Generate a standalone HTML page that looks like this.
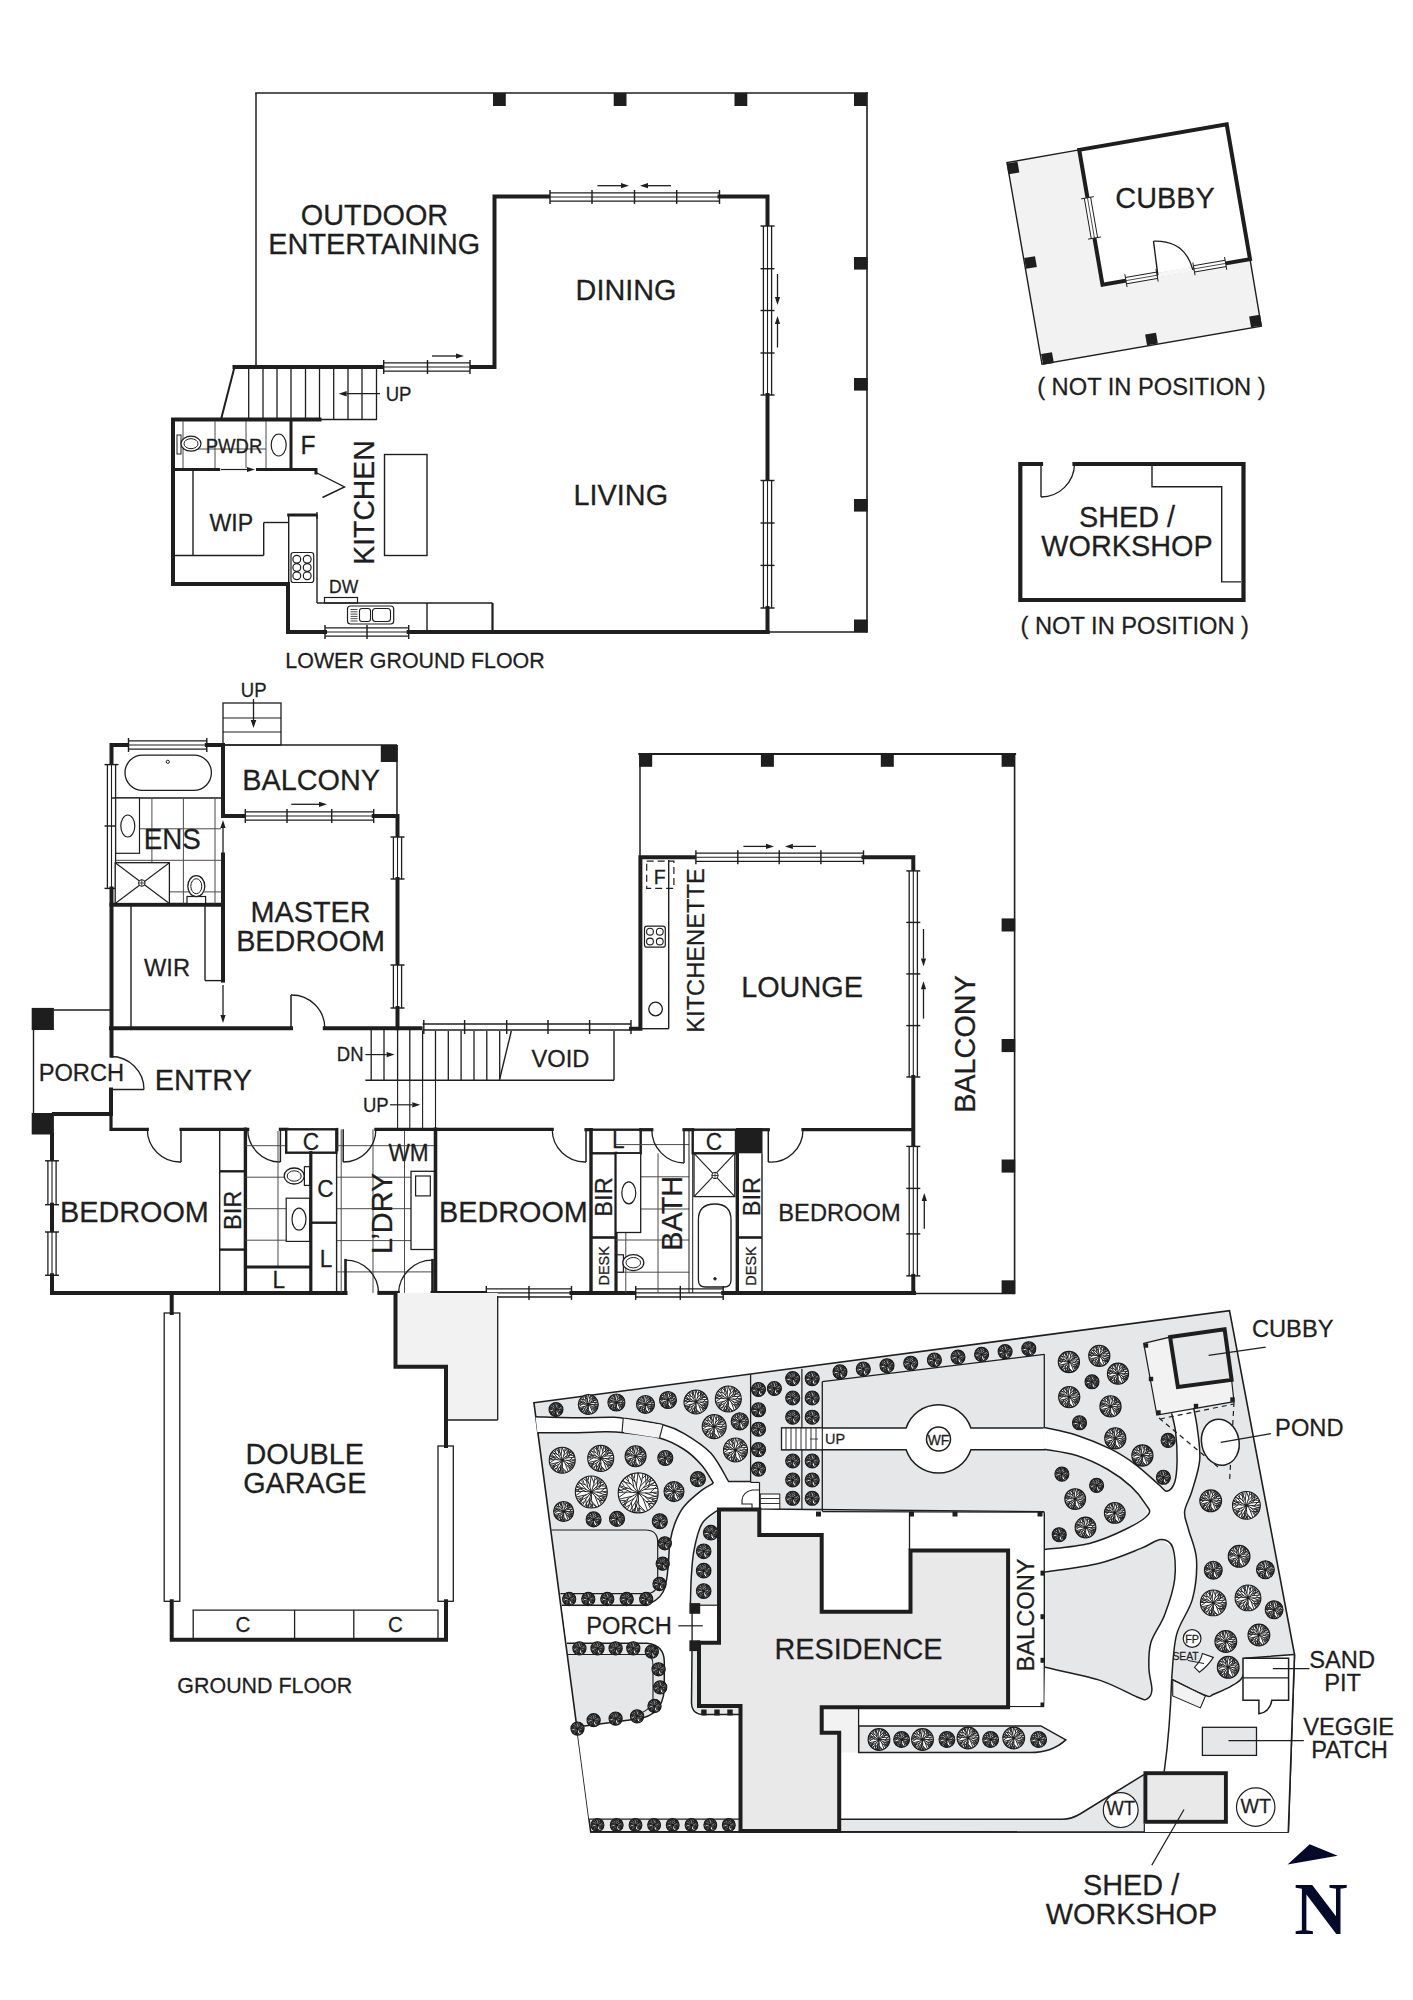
<!DOCTYPE html>
<html><head><meta charset="utf-8"><style>html,body{margin:0;padding:0;background:#fff;width:1413px;height:2000px;overflow:hidden}svg{display:block}</style></head>
<body><svg width="1413" height="2000" viewBox="0 0 1413 2000">
<rect width="1413" height="2000" fill="#fff"/>
<line x1="256" y1="93" x2="867" y2="93" stroke="#1e1e1e" stroke-width="1.6" stroke-linecap="square"/>
<line x1="256" y1="93" x2="256" y2="367" stroke="#1e1e1e" stroke-width="1.5" stroke-linecap="butt"/>
<line x1="867" y1="93" x2="867" y2="632" stroke="#1e1e1e" stroke-width="1.6" stroke-linecap="square"/>
<line x1="767" y1="632" x2="867" y2="632" stroke="#1e1e1e" stroke-width="1.5" stroke-linecap="butt"/>
<rect x="493" y="93" width="12.8" height="13" fill="#1e1e1e"/>
<rect x="613.7" y="93" width="12.8" height="13" fill="#1e1e1e"/>
<rect x="734.5" y="93" width="12.8" height="13" fill="#1e1e1e"/>
<rect x="854" y="93" width="12.8" height="13" fill="#1e1e1e"/>
<rect x="854" y="257" width="13.6" height="12.6" fill="#1e1e1e"/>
<rect x="854" y="378" width="13.6" height="12.6" fill="#1e1e1e"/>
<rect x="854" y="499" width="13.6" height="12.6" fill="#1e1e1e"/>
<rect x="854" y="619.5" width="13.6" height="12.6" fill="#1e1e1e"/>
<path d="M470 367 L494.5 367 L494.5 196.5 L550 196.5" fill="none" stroke="#1e1e1e" stroke-width="4" stroke-linecap="square" stroke-linejoin="miter"/>
<rect x="550" y="191.9" width="169.5" height="10.2" fill="#fff"/>
<line x1="550" y1="192.9" x2="719.5" y2="192.9" stroke="#1e1e1e" stroke-width="1.3" stroke-linecap="butt"/>
<line x1="550" y1="201.1" x2="719.5" y2="201.1" stroke="#1e1e1e" stroke-width="1.3" stroke-linecap="butt"/>
<line x1="550" y1="197" x2="719.5" y2="197" stroke="#1e1e1e" stroke-width="1.1" stroke-linecap="butt"/>
<line x1="550" y1="190" x2="550" y2="204" stroke="#1e1e1e" stroke-width="1.43" stroke-linecap="butt"/>
<line x1="592" y1="190" x2="592" y2="204" stroke="#1e1e1e" stroke-width="1.43" stroke-linecap="butt"/>
<line x1="634.5" y1="190" x2="634.5" y2="204" stroke="#1e1e1e" stroke-width="1.43" stroke-linecap="butt"/>
<line x1="676.7" y1="190" x2="676.7" y2="204" stroke="#1e1e1e" stroke-width="1.43" stroke-linecap="butt"/>
<line x1="719.5" y1="190" x2="719.5" y2="204" stroke="#1e1e1e" stroke-width="1.43" stroke-linecap="butt"/>
<path d="M719.5 196.5 L767.5 196.5 L767.5 226" fill="none" stroke="#1e1e1e" stroke-width="4" stroke-linecap="square" stroke-linejoin="miter"/>
<rect x="762.4" y="226" width="10.2" height="169" fill="#fff"/>
<line x1="763.4" y1="226" x2="763.4" y2="395" stroke="#1e1e1e" stroke-width="1.3" stroke-linecap="butt"/>
<line x1="771.6" y1="226" x2="771.6" y2="395" stroke="#1e1e1e" stroke-width="1.3" stroke-linecap="butt"/>
<line x1="767.5" y1="226" x2="767.5" y2="395" stroke="#1e1e1e" stroke-width="1.1" stroke-linecap="butt"/>
<line x1="760.5" y1="226" x2="774.5" y2="226" stroke="#1e1e1e" stroke-width="1.43" stroke-linecap="butt"/>
<line x1="760.5" y1="268.7" x2="774.5" y2="268.7" stroke="#1e1e1e" stroke-width="1.43" stroke-linecap="butt"/>
<line x1="760.5" y1="310.5" x2="774.5" y2="310.5" stroke="#1e1e1e" stroke-width="1.43" stroke-linecap="butt"/>
<line x1="760.5" y1="353" x2="774.5" y2="353" stroke="#1e1e1e" stroke-width="1.43" stroke-linecap="butt"/>
<line x1="760.5" y1="395" x2="774.5" y2="395" stroke="#1e1e1e" stroke-width="1.43" stroke-linecap="butt"/>
<path d="M767.5 395 L767.5 480.5" fill="none" stroke="#1e1e1e" stroke-width="4" stroke-linecap="square" stroke-linejoin="miter"/>
<rect x="762.4" y="480.5" width="10.2" height="127.5" fill="#fff"/>
<line x1="763.4" y1="480.5" x2="763.4" y2="608" stroke="#1e1e1e" stroke-width="1.3" stroke-linecap="butt"/>
<line x1="771.6" y1="480.5" x2="771.6" y2="608" stroke="#1e1e1e" stroke-width="1.3" stroke-linecap="butt"/>
<line x1="767.5" y1="480.5" x2="767.5" y2="608" stroke="#1e1e1e" stroke-width="1.1" stroke-linecap="butt"/>
<line x1="760.5" y1="480.5" x2="774.5" y2="480.5" stroke="#1e1e1e" stroke-width="1.43" stroke-linecap="butt"/>
<line x1="760.5" y1="523" x2="774.5" y2="523" stroke="#1e1e1e" stroke-width="1.43" stroke-linecap="butt"/>
<line x1="760.5" y1="565.4" x2="774.5" y2="565.4" stroke="#1e1e1e" stroke-width="1.43" stroke-linecap="butt"/>
<line x1="760.5" y1="608" x2="774.5" y2="608" stroke="#1e1e1e" stroke-width="1.43" stroke-linecap="butt"/>
<path d="M767.5 608 L767.5 632 L325 632" fill="none" stroke="#1e1e1e" stroke-width="4" stroke-linecap="square" stroke-linejoin="miter"/>
<rect x="325" y="626.9" width="83.7" height="10.2" fill="#fff"/>
<line x1="325" y1="627.9" x2="408.7" y2="627.9" stroke="#1e1e1e" stroke-width="1.3" stroke-linecap="butt"/>
<line x1="325" y1="636.1" x2="408.7" y2="636.1" stroke="#1e1e1e" stroke-width="1.3" stroke-linecap="butt"/>
<line x1="325" y1="632" x2="408.7" y2="632" stroke="#1e1e1e" stroke-width="1.1" stroke-linecap="butt"/>
<line x1="325" y1="625" x2="325" y2="639" stroke="#1e1e1e" stroke-width="1.43" stroke-linecap="butt"/>
<line x1="367" y1="625" x2="367" y2="639" stroke="#1e1e1e" stroke-width="1.43" stroke-linecap="butt"/>
<line x1="408.7" y1="625" x2="408.7" y2="639" stroke="#1e1e1e" stroke-width="1.43" stroke-linecap="butt"/>
<path d="M408.7 632 L767.5 632" fill="none" stroke="#1e1e1e" stroke-width="4" stroke-linecap="square" stroke-linejoin="miter"/>
<path d="M325 632 L288 632 L288 584 L173 584 L173 419.5 L319.5 419.5" fill="none" stroke="#1e1e1e" stroke-width="4" stroke-linecap="square" stroke-linejoin="miter"/>
<path d="M234.5 367 L383.7 367" fill="none" stroke="#1e1e1e" stroke-width="4" stroke-linecap="square" stroke-linejoin="miter"/>
<rect x="383.7" y="361.9" width="86.3" height="10.2" fill="#fff"/>
<line x1="383.7" y1="362.9" x2="470" y2="362.9" stroke="#1e1e1e" stroke-width="1.3" stroke-linecap="butt"/>
<line x1="383.7" y1="371.1" x2="470" y2="371.1" stroke="#1e1e1e" stroke-width="1.3" stroke-linecap="butt"/>
<line x1="383.7" y1="367" x2="470" y2="367" stroke="#1e1e1e" stroke-width="1.1" stroke-linecap="butt"/>
<line x1="383.7" y1="360" x2="383.7" y2="374" stroke="#1e1e1e" stroke-width="1.43" stroke-linecap="butt"/>
<line x1="427.5" y1="360" x2="427.5" y2="374" stroke="#1e1e1e" stroke-width="1.43" stroke-linecap="butt"/>
<line x1="470" y1="360" x2="470" y2="374" stroke="#1e1e1e" stroke-width="1.43" stroke-linecap="butt"/>
<line x1="432" y1="356" x2="456" y2="356" stroke="#1e1e1e" stroke-width="1.3" stroke-linecap="butt"/>
<path d="M464 356 L456 353.4 L456 358.6 Z" fill="#1e1e1e"/>
<line x1="597.5" y1="185.7" x2="621" y2="185.7" stroke="#1e1e1e" stroke-width="1.3" stroke-linecap="butt"/>
<path d="M629 185.7 L621 183.1 L621 188.3 Z" fill="#1e1e1e"/>
<line x1="671" y1="185.7" x2="648" y2="185.7" stroke="#1e1e1e" stroke-width="1.3" stroke-linecap="butt"/>
<path d="M640 185.7 L648 183.1 L648 188.3 Z" fill="#1e1e1e"/>
<line x1="777.5" y1="274" x2="777.5" y2="297" stroke="#1e1e1e" stroke-width="1.3" stroke-linecap="butt"/>
<path d="M777.5 305 L774.9 297 L780.1 297 Z" fill="#1e1e1e"/>
<line x1="777.5" y1="347.5" x2="777.5" y2="324" stroke="#1e1e1e" stroke-width="1.3" stroke-linecap="butt"/>
<path d="M777.5 316 L774.9 324 L780.1 324 Z" fill="#1e1e1e"/>
<line x1="234.5" y1="367" x2="221" y2="419.5" stroke="#1e1e1e" stroke-width="2" stroke-linecap="butt"/>
<line x1="248.7" y1="367" x2="248.7" y2="419.5" stroke="#1e1e1e" stroke-width="1.3" stroke-linecap="butt"/>
<line x1="263" y1="367" x2="263" y2="419.5" stroke="#1e1e1e" stroke-width="1.3" stroke-linecap="butt"/>
<line x1="277" y1="367" x2="277" y2="419.5" stroke="#1e1e1e" stroke-width="1.3" stroke-linecap="butt"/>
<line x1="291" y1="367" x2="291" y2="419.5" stroke="#1e1e1e" stroke-width="1.3" stroke-linecap="butt"/>
<line x1="305.5" y1="367" x2="305.5" y2="419.5" stroke="#1e1e1e" stroke-width="1.3" stroke-linecap="butt"/>
<line x1="319.5" y1="367" x2="319.5" y2="419.5" stroke="#1e1e1e" stroke-width="1.3" stroke-linecap="butt"/>
<line x1="333.7" y1="367" x2="333.7" y2="419.5" stroke="#1e1e1e" stroke-width="1.3" stroke-linecap="butt"/>
<line x1="348" y1="367" x2="348" y2="419.5" stroke="#1e1e1e" stroke-width="1.3" stroke-linecap="butt"/>
<line x1="362" y1="367" x2="362" y2="419.5" stroke="#1e1e1e" stroke-width="1.3" stroke-linecap="butt"/>
<line x1="376.5" y1="367" x2="376.5" y2="419.5" stroke="#1e1e1e" stroke-width="1.3" stroke-linecap="butt"/>
<line x1="319.5" y1="419.5" x2="377" y2="419.5" stroke="#1e1e1e" stroke-width="1.3" stroke-linecap="butt"/>
<line x1="380" y1="393.7" x2="346.7" y2="393.7" stroke="#1e1e1e" stroke-width="1.3" stroke-linecap="butt"/>
<path d="M338.7 393.7 L346.7 390.9 L346.7 396.5 Z" fill="#1e1e1e"/>
<text x="0" y="0" font-family="Liberation Sans" font-size="18" font-weight="normal" text-anchor="middle" fill="#1e1e1e" stroke="#1e1e1e" stroke-width="0.25" transform="translate(398.5 401) scale(1.03 1.08)">UP</text>
<path d="M291 419.5 L291 469.5" fill="none" stroke="#1e1e1e" stroke-width="3" stroke-linecap="square" stroke-linejoin="miter"/>
<path d="M175 469.5 L218.7 469.5" fill="none" stroke="#1e1e1e" stroke-width="3" stroke-linecap="square" stroke-linejoin="miter"/>
<path d="M257.5 469.5 L316 469.5 L316 473" fill="none" stroke="#1e1e1e" stroke-width="3" stroke-linecap="square" stroke-linejoin="miter"/>
<line x1="221" y1="469.5" x2="247" y2="469.5" stroke="#1e1e1e" stroke-width="1.2" stroke-linecap="butt"/>
<path d="M255 469.5 L247 466.9 L247 472.1 Z" fill="#1e1e1e"/>
<line x1="183" y1="421" x2="183" y2="468" stroke="#4a4a4a" stroke-width="1" stroke-linecap="butt"/>
<line x1="215" y1="421" x2="215" y2="468" stroke="#4a4a4a" stroke-width="1" stroke-linecap="butt"/>
<line x1="246" y1="421" x2="246" y2="468" stroke="#4a4a4a" stroke-width="1" stroke-linecap="butt"/>
<line x1="266" y1="421" x2="266" y2="468" stroke="#4a4a4a" stroke-width="1" stroke-linecap="butt"/>
<line x1="183" y1="449" x2="266" y2="449" stroke="#4a4a4a" stroke-width="1" stroke-linecap="butt"/>
<rect x="177" y="435" width="4" height="19" rx="0" fill="#fff" stroke="#1e1e1e" stroke-width="1"/>
<ellipse cx="191" cy="443.7" rx="10" ry="7.5" fill="#fff" stroke="#1e1e1e" stroke-width="1.2"/>
<ellipse cx="191" cy="443.7" rx="7" ry="5" fill="none" stroke="#1e1e1e" stroke-width="1"/>
<ellipse cx="278.7" cy="445" rx="7.5" ry="11" fill="#fff" stroke="#1e1e1e" stroke-width="1.2"/>
<text x="0" y="0" font-family="Liberation Sans" font-size="18" font-weight="normal" text-anchor="middle" fill="#1e1e1e" stroke="#1e1e1e" stroke-width="0.25" transform="translate(234 452.5) scale(1.03 1.08)">PWDR</text>
<text x="0" y="0" font-family="Liberation Sans" font-size="24" font-weight="normal" text-anchor="middle" fill="#1e1e1e" stroke="#1e1e1e" stroke-width="0.25" transform="translate(308 454) scale(1.03 1.08)">F</text>
<path d="M316 472.5 L344.5 487 L322.5 497.5" fill="none" stroke="#1e1e1e" stroke-width="1.4" stroke-linecap="butt" stroke-linejoin="miter"/>
<line x1="193" y1="469.5" x2="193" y2="555.5" stroke="#1e1e1e" stroke-width="1.4" stroke-linecap="butt"/>
<line x1="175" y1="555.5" x2="263.7" y2="555.5" stroke="#1e1e1e" stroke-width="1.4" stroke-linecap="butt"/>
<line x1="263.7" y1="522.5" x2="263.7" y2="555.5" stroke="#1e1e1e" stroke-width="1.4" stroke-linecap="butt"/>
<line x1="263.7" y1="522.5" x2="288.7" y2="522.5" stroke="#1e1e1e" stroke-width="1.4" stroke-linecap="butt"/>
<line x1="288.7" y1="515" x2="288.7" y2="584" stroke="#1e1e1e" stroke-width="1.4" stroke-linecap="butt"/>
<path d="M288.7 515 L316 515" fill="none" stroke="#1e1e1e" stroke-width="3" stroke-linecap="square" stroke-linejoin="miter"/>
<line x1="317" y1="512" x2="317" y2="519" stroke="#1e1e1e" stroke-width="1.3" stroke-linecap="butt"/>
<text x="0" y="0" font-family="Liberation Sans" font-size="22.5" font-weight="normal" text-anchor="middle" fill="#1e1e1e" stroke="#1e1e1e" stroke-width="0.25" transform="translate(231.3 531.3) scale(1.03 1.08)">WIP</text>
<line x1="317" y1="515" x2="317" y2="603" stroke="#1e1e1e" stroke-width="1.4" stroke-linecap="butt"/>
<line x1="317" y1="603" x2="492.5" y2="603" stroke="#1e1e1e" stroke-width="1.4" stroke-linecap="butt"/>
<line x1="492.5" y1="603" x2="492.5" y2="632" stroke="#1e1e1e" stroke-width="2.2" stroke-linecap="butt"/>
<line x1="427" y1="603" x2="427" y2="632" stroke="#1e1e1e" stroke-width="1.4" stroke-linecap="butt"/>
<rect x="291" y="552.5" width="22.7" height="30" rx="2.5" fill="none" stroke="#1e1e1e" stroke-width="1.2"/>
<circle cx="296.8" cy="559.3" r="3.9" fill="none" stroke="#1e1e1e" stroke-width="1.2"/>
<circle cx="296.8" cy="567.5" r="3.9" fill="none" stroke="#1e1e1e" stroke-width="1.2"/>
<circle cx="296.8" cy="575.7" r="3.9" fill="none" stroke="#1e1e1e" stroke-width="1.2"/>
<circle cx="307.2" cy="559.3" r="3.9" fill="none" stroke="#1e1e1e" stroke-width="1.2"/>
<circle cx="307.2" cy="567.5" r="3.9" fill="none" stroke="#1e1e1e" stroke-width="1.2"/>
<circle cx="307.2" cy="575.7" r="3.9" fill="none" stroke="#1e1e1e" stroke-width="1.2"/>
<text x="0" y="0" font-family="Liberation Sans" font-size="17" font-weight="normal" text-anchor="middle" fill="#1e1e1e" stroke="#1e1e1e" stroke-width="0.25" transform="translate(343.7 592.5) scale(1.03 1.08)">DW</text>
<rect x="324.5" y="597.5" width="33" height="5.5" rx="0" fill="none" stroke="#1e1e1e" stroke-width="1.2"/>
<rect x="347.5" y="606" width="46.2" height="18" rx="3" fill="none" stroke="#1e1e1e" stroke-width="1.2"/>
<line x1="350.5" y1="609.5" x2="357.5" y2="609.5" stroke="#1e1e1e" stroke-width="0.8" stroke-linecap="butt"/>
<line x1="350.5" y1="611.8" x2="357.5" y2="611.8" stroke="#1e1e1e" stroke-width="0.8" stroke-linecap="butt"/>
<line x1="350.5" y1="614.1" x2="357.5" y2="614.1" stroke="#1e1e1e" stroke-width="0.8" stroke-linecap="butt"/>
<line x1="350.5" y1="616.4" x2="357.5" y2="616.4" stroke="#1e1e1e" stroke-width="0.8" stroke-linecap="butt"/>
<line x1="350.5" y1="618.7" x2="357.5" y2="618.7" stroke="#1e1e1e" stroke-width="0.8" stroke-linecap="butt"/>
<line x1="350.5" y1="621" x2="357.5" y2="621" stroke="#1e1e1e" stroke-width="0.8" stroke-linecap="butt"/>
<rect x="359.5" y="608.5" width="11" height="13" rx="2.5" fill="none" stroke="#1e1e1e" stroke-width="1.1"/>
<rect x="372.5" y="608.5" width="18" height="13" rx="3" fill="none" stroke="#1e1e1e" stroke-width="1.1"/>
<rect x="384.5" y="454.5" width="42.5" height="101" rx="0" fill="none" stroke="#1e1e1e" stroke-width="1.4"/>
<text x="0" y="0" font-family="Liberation Sans" font-size="27.5" font-weight="normal" text-anchor="middle" fill="#1e1e1e" stroke="#1e1e1e" stroke-width="0.25" transform="translate(373.5 502.5) rotate(-90) scale(1.03 1.08)">KITCHEN</text>
<text x="0" y="0" font-family="Liberation Sans" font-size="28" font-weight="normal" text-anchor="middle" fill="#1e1e1e" stroke="#1e1e1e" stroke-width="0.25" transform="translate(374.5 225) scale(1.03 1.08)">OUTDOOR</text>
<text x="0" y="0" font-family="Liberation Sans" font-size="28" font-weight="normal" text-anchor="middle" fill="#1e1e1e" stroke="#1e1e1e" stroke-width="0.25" transform="translate(374.3 253.5) scale(1.03 1.08)">ENTERTAINING</text>
<text x="0" y="0" font-family="Liberation Sans" font-size="28" font-weight="normal" text-anchor="middle" fill="#1e1e1e" stroke="#1e1e1e" stroke-width="0.25" transform="translate(626 300) scale(1.03 1.08)">DINING</text>
<text x="0" y="0" font-family="Liberation Sans" font-size="28" font-weight="normal" text-anchor="middle" fill="#1e1e1e" stroke="#1e1e1e" stroke-width="0.25" transform="translate(620.8 504.6) scale(1.03 1.08)">LIVING</text>
<text x="0" y="0" font-family="Liberation Sans" font-size="20.8" font-weight="normal" text-anchor="middle" fill="#1e1e1e" stroke="#1e1e1e" stroke-width="0.25" transform="translate(415 668.3) scale(1.03 1.08)">LOWER GROUND FLOOR</text>
<path d="M1007 162.6 L1079.2 149.9 L1102.5 284.7 L1250 259.2 L1261.3 326.1 L1042 364.3 Z" fill="#f2f2f2" stroke="none" stroke-width="0.01" stroke-linecap="square" stroke-linejoin="miter"/>
<path d="M1079.2 149.9 L1007 162.6 L1042 364.3 L1261.3 326.1 L1250 259.2" fill="none" stroke="#1e1e1e" stroke-width="1.4" stroke-linecap="butt" stroke-linejoin="miter"/>
<path d="M1079.2 149.9 L1226.7 124.4 L1250 259.2 L1102.5 284.7 Z" fill="#fff" stroke="#1e1e1e" stroke-width="4" stroke-linecap="square" stroke-linejoin="miter"/>
<rect x="-5.5" y="-5.5" width="11" height="11" fill="#1e1e1e" transform="translate(1013 168) rotate(-9.8)"/>
<rect x="-5.5" y="-5.5" width="11" height="11" fill="#1e1e1e" transform="translate(1030.5 262.5) rotate(-9.8)"/>
<rect x="-5.5" y="-5.5" width="11" height="11" fill="#1e1e1e" transform="translate(1047.5 358.5) rotate(-9.8)"/>
<rect x="-5.5" y="-5.5" width="11" height="11" fill="#1e1e1e" transform="translate(1151.5 339) rotate(-9.8)"/>
<rect x="-5.5" y="-5.5" width="11" height="11" fill="#1e1e1e" transform="translate(1255.5 321) rotate(-9.8)"/>
<path d="M1087.47 197.75 L1094.44 238.06" stroke="#fff" stroke-width="6"/>
<line x1="1090.62" y1="197.21" x2="1097.59" y2="237.51" stroke="#1e1e1e" stroke-width="1" stroke-linecap="butt"/>
<line x1="1084.32" y1="198.3" x2="1091.28" y2="238.6" stroke="#1e1e1e" stroke-width="1" stroke-linecap="butt"/>
<line x1="1087.47" y1="197.75" x2="1094.44" y2="238.06" stroke="#1e1e1e" stroke-width="0.8" stroke-linecap="butt"/>
<line x1="1093.88" y1="196.65" x2="1081.07" y2="198.86" stroke="#1e1e1e" stroke-width="1" stroke-linecap="butt"/>
<line x1="1100.84" y1="236.95" x2="1088.03" y2="239.17" stroke="#1e1e1e" stroke-width="1" stroke-linecap="butt"/>
<path d="M1125.95 280.65 L1157.08 275.26" stroke="#fff" stroke-width="6"/>
<line x1="1125.41" y1="277.49" x2="1156.53" y2="272.11" stroke="#1e1e1e" stroke-width="1" stroke-linecap="butt"/>
<line x1="1126.5" y1="283.8" x2="1157.62" y2="278.42" stroke="#1e1e1e" stroke-width="1" stroke-linecap="butt"/>
<line x1="1125.95" y1="280.65" x2="1157.08" y2="275.26" stroke="#1e1e1e" stroke-width="0.8" stroke-linecap="butt"/>
<line x1="1124.85" y1="274.24" x2="1127.06" y2="287.05" stroke="#1e1e1e" stroke-width="1" stroke-linecap="butt"/>
<line x1="1155.97" y1="268.86" x2="1158.18" y2="281.67" stroke="#1e1e1e" stroke-width="1" stroke-linecap="butt"/>
<path d="M1193.95 268.89 L1225.66 263.41" stroke="#fff" stroke-width="6"/>
<line x1="1193.4" y1="265.74" x2="1225.12" y2="260.25" stroke="#1e1e1e" stroke-width="1" stroke-linecap="butt"/>
<line x1="1194.5" y1="272.04" x2="1226.21" y2="266.56" stroke="#1e1e1e" stroke-width="1" stroke-linecap="butt"/>
<line x1="1193.95" y1="268.89" x2="1225.66" y2="263.41" stroke="#1e1e1e" stroke-width="0.8" stroke-linecap="butt"/>
<line x1="1192.84" y1="262.49" x2="1195.06" y2="275.29" stroke="#1e1e1e" stroke-width="1" stroke-linecap="butt"/>
<line x1="1224.56" y1="257" x2="1226.77" y2="269.81" stroke="#1e1e1e" stroke-width="1" stroke-linecap="butt"/>
<path d="M1157.81 275.14 L1193.21 269.02" stroke="#f6f6f6" stroke-width="5"/>
<line x1="1157.81" y1="275.14" x2="1153.5" y2="241.2" stroke="#1e1e1e" stroke-width="1.4" stroke-linecap="butt"/>
<path d="M1153.5 241.2 Q1185 240 1192.8 269.9" fill="none" stroke="#1e1e1e" stroke-width="1.3"/>
<text x="0" y="0" font-family="Liberation Sans" font-size="28" font-weight="normal" text-anchor="middle" fill="#1e1e1e" stroke="#1e1e1e" stroke-width="0.25" transform="translate(1165 208.3) scale(1.03 1.08)">CUBBY</text>
<text x="0" y="0" font-family="Liberation Sans" font-size="23" font-weight="normal" text-anchor="middle" fill="#1e1e1e" stroke="#1e1e1e" stroke-width="0.25" transform="translate(1151.4 395) scale(1.03 1.08)">( NOT IN POSITION )</text>
<path d="M1041 464 L1020.3 464 L1020.3 600 L1243.5 600 L1243.5 464 L1074.5 464" fill="none" stroke="#1e1e1e" stroke-width="4.2" stroke-linecap="square" stroke-linejoin="miter"/>
<line x1="1041" y1="464" x2="1041" y2="497" stroke="#1e1e1e" stroke-width="1.4" stroke-linecap="butt"/>
<path d="M1041 497 A33.5 33.5 0 0 0 1074.5 464" fill="none" stroke="#1e1e1e" stroke-width="1.3"/>
<path d="M1152 466 L1152 486.7 L1221.7 486.7 L1221.7 581.9 L1241 581.9" fill="none" stroke="#1e1e1e" stroke-width="1.4" stroke-linecap="butt" stroke-linejoin="miter"/>
<text x="0" y="0" font-family="Liberation Sans" font-size="28" font-weight="normal" text-anchor="middle" fill="#1e1e1e" stroke="#1e1e1e" stroke-width="0.25" transform="translate(1127 527) scale(1.03 1.08)">SHED /</text>
<text x="0" y="0" font-family="Liberation Sans" font-size="28" font-weight="normal" text-anchor="middle" fill="#1e1e1e" stroke="#1e1e1e" stroke-width="0.25" transform="translate(1127 556) scale(1.03 1.08)">WORKSHOP</text>
<text x="0" y="0" font-family="Liberation Sans" font-size="23" font-weight="normal" text-anchor="middle" fill="#1e1e1e" stroke="#1e1e1e" stroke-width="0.25" transform="translate(1134.7 634.4) scale(1.03 1.08)">( NOT IN POSITION )</text>
<rect x="223" y="703" width="58" height="42" rx="0" fill="none" stroke="#1e1e1e" stroke-width="1.3"/>
<line x1="223" y1="718" x2="281" y2="718" stroke="#1e1e1e" stroke-width="1.2" stroke-linecap="butt"/>
<line x1="223" y1="732" x2="281" y2="732" stroke="#1e1e1e" stroke-width="1.2" stroke-linecap="butt"/>
<line x1="253.5" y1="699" x2="253.5" y2="720" stroke="#1e1e1e" stroke-width="1.3" stroke-linecap="butt"/>
<path d="M253.5 728 L250.7 720 L256.3 720 Z" fill="#1e1e1e"/>
<text x="0" y="0" font-family="Liberation Sans" font-size="18" font-weight="normal" text-anchor="middle" fill="#1e1e1e" stroke="#1e1e1e" stroke-width="0.25" transform="translate(253.7 697) scale(1.03 1.08)">UP</text>
<path d="M111.5 764.6 L111.5 745 L128.5 745" fill="none" stroke="#1e1e1e" stroke-width="4" stroke-linecap="square" stroke-linejoin="miter"/>
<rect x="128.5" y="739.9" width="78.3" height="10.2" fill="#fff"/>
<line x1="128.5" y1="740.9" x2="206.8" y2="740.9" stroke="#1e1e1e" stroke-width="1.3" stroke-linecap="butt"/>
<line x1="128.5" y1="749.1" x2="206.8" y2="749.1" stroke="#1e1e1e" stroke-width="1.3" stroke-linecap="butt"/>
<line x1="128.5" y1="745" x2="206.8" y2="745" stroke="#1e1e1e" stroke-width="1.1" stroke-linecap="butt"/>
<line x1="128.5" y1="738" x2="128.5" y2="752" stroke="#1e1e1e" stroke-width="1.43" stroke-linecap="butt"/>
<line x1="206.8" y1="738" x2="206.8" y2="752" stroke="#1e1e1e" stroke-width="1.43" stroke-linecap="butt"/>
<path d="M206.8 745 L223 745 L223 816 L245.3 816" fill="none" stroke="#1e1e1e" stroke-width="4" stroke-linecap="square" stroke-linejoin="miter"/>
<rect x="245.3" y="810.9" width="128.4" height="10.2" fill="#fff"/>
<line x1="245.3" y1="811.9" x2="373.7" y2="811.9" stroke="#1e1e1e" stroke-width="1.3" stroke-linecap="butt"/>
<line x1="245.3" y1="820.1" x2="373.7" y2="820.1" stroke="#1e1e1e" stroke-width="1.3" stroke-linecap="butt"/>
<line x1="245.3" y1="816" x2="373.7" y2="816" stroke="#1e1e1e" stroke-width="1.1" stroke-linecap="butt"/>
<line x1="245.3" y1="809" x2="245.3" y2="823" stroke="#1e1e1e" stroke-width="1.43" stroke-linecap="butt"/>
<line x1="287" y1="809" x2="287" y2="823" stroke="#1e1e1e" stroke-width="1.43" stroke-linecap="butt"/>
<line x1="331.7" y1="809" x2="331.7" y2="823" stroke="#1e1e1e" stroke-width="1.43" stroke-linecap="butt"/>
<line x1="373.7" y1="809" x2="373.7" y2="823" stroke="#1e1e1e" stroke-width="1.43" stroke-linecap="butt"/>
<path d="M373.7 816 L397.5 816 L397.5 837" fill="none" stroke="#1e1e1e" stroke-width="4" stroke-linecap="square" stroke-linejoin="miter"/>
<rect x="392.4" y="837" width="10.2" height="42" fill="#fff"/>
<line x1="393.4" y1="837" x2="393.4" y2="879" stroke="#1e1e1e" stroke-width="1.3" stroke-linecap="butt"/>
<line x1="401.6" y1="837" x2="401.6" y2="879" stroke="#1e1e1e" stroke-width="1.3" stroke-linecap="butt"/>
<line x1="397.5" y1="837" x2="397.5" y2="879" stroke="#1e1e1e" stroke-width="1.1" stroke-linecap="butt"/>
<line x1="390.5" y1="837" x2="404.5" y2="837" stroke="#1e1e1e" stroke-width="1.43" stroke-linecap="butt"/>
<line x1="390.5" y1="879" x2="404.5" y2="879" stroke="#1e1e1e" stroke-width="1.43" stroke-linecap="butt"/>
<path d="M397.5 879 L397.5 965" fill="none" stroke="#1e1e1e" stroke-width="4" stroke-linecap="square" stroke-linejoin="miter"/>
<rect x="392.4" y="965" width="10.2" height="43" fill="#fff"/>
<line x1="393.4" y1="965" x2="393.4" y2="1008" stroke="#1e1e1e" stroke-width="1.3" stroke-linecap="butt"/>
<line x1="401.6" y1="965" x2="401.6" y2="1008" stroke="#1e1e1e" stroke-width="1.3" stroke-linecap="butt"/>
<line x1="397.5" y1="965" x2="397.5" y2="1008" stroke="#1e1e1e" stroke-width="1.1" stroke-linecap="butt"/>
<line x1="390.5" y1="965" x2="404.5" y2="965" stroke="#1e1e1e" stroke-width="1.43" stroke-linecap="butt"/>
<line x1="390.5" y1="1008" x2="404.5" y2="1008" stroke="#1e1e1e" stroke-width="1.43" stroke-linecap="butt"/>
<path d="M397.5 1008 L397.5 1028.2" fill="none" stroke="#1e1e1e" stroke-width="4" stroke-linecap="square" stroke-linejoin="miter"/>
<rect x="106.4" y="764.6" width="10.2" height="123.8" fill="#fff"/>
<line x1="107.4" y1="764.6" x2="107.4" y2="888.4" stroke="#1e1e1e" stroke-width="1.3" stroke-linecap="butt"/>
<line x1="115.6" y1="764.6" x2="115.6" y2="888.4" stroke="#1e1e1e" stroke-width="1.3" stroke-linecap="butt"/>
<line x1="111.5" y1="764.6" x2="111.5" y2="888.4" stroke="#1e1e1e" stroke-width="1.1" stroke-linecap="butt"/>
<line x1="104.5" y1="764.6" x2="118.5" y2="764.6" stroke="#1e1e1e" stroke-width="1.43" stroke-linecap="butt"/>
<line x1="104.5" y1="826" x2="118.5" y2="826" stroke="#1e1e1e" stroke-width="1.43" stroke-linecap="butt"/>
<line x1="104.5" y1="888.4" x2="118.5" y2="888.4" stroke="#1e1e1e" stroke-width="1.43" stroke-linecap="butt"/>
<path d="M111.5 888.4 L111.5 1055.7" fill="none" stroke="#1e1e1e" stroke-width="4" stroke-linecap="square" stroke-linejoin="miter"/>
<path d="M111.5 904.7 L223 904.7" fill="none" stroke="#1e1e1e" stroke-width="4" stroke-linecap="square" stroke-linejoin="miter"/>
<line x1="223" y1="853" x2="223" y2="828" stroke="#1e1e1e" stroke-width="1.3" stroke-linecap="butt"/>
<path d="M223 820 L220.4 828 L225.6 828 Z" fill="#1e1e1e"/>
<path d="M223 854.5 L223 980.6" fill="none" stroke="#1e1e1e" stroke-width="4" stroke-linecap="square" stroke-linejoin="miter"/>
<line x1="223" y1="985" x2="223" y2="1015" stroke="#1e1e1e" stroke-width="1.3" stroke-linecap="butt"/>
<path d="M223 1023 L220.4 1015 L225.6 1015 Z" fill="#1e1e1e"/>
<line x1="205" y1="904.7" x2="205" y2="980.6" stroke="#1e1e1e" stroke-width="1.4" stroke-linecap="butt"/>
<line x1="205" y1="980.6" x2="223" y2="980.6" stroke="#1e1e1e" stroke-width="1.4" stroke-linecap="butt"/>
<line x1="131" y1="904.7" x2="131" y2="1028.2" stroke="#1e1e1e" stroke-width="1.4" stroke-linecap="butt"/>
<path d="M111 1028.2 L291 1028.2" fill="none" stroke="#1e1e1e" stroke-width="4" stroke-linecap="square" stroke-linejoin="miter"/>
<line x1="291" y1="1028.2" x2="291" y2="995" stroke="#1e1e1e" stroke-width="1.5" stroke-linecap="butt"/>
<path d="M291 995 A33.2 33.2 0 0 1 324.8 1028.2" fill="none" stroke="#1e1e1e" stroke-width="1.3"/>
<path d="M324.8 1028.2 L422.6 1028.2" fill="none" stroke="#1e1e1e" stroke-width="4" stroke-linecap="square" stroke-linejoin="miter"/>
<line x1="224.3" y1="745" x2="397" y2="745" stroke="#1e1e1e" stroke-width="1.5" stroke-linecap="butt"/>
<line x1="397" y1="745" x2="397" y2="816" stroke="#1e1e1e" stroke-width="1.5" stroke-linecap="butt"/>
<rect x="380.8" y="745" width="16.8" height="17" fill="#1e1e1e"/>
<rect x="125" y="755.2" width="86.4" height="35.1" rx="17.5" fill="none" stroke="#1e1e1e" stroke-width="1.3"/>
<circle cx="167.8" cy="761.8" r="1.6" fill="none" stroke="#1e1e1e" stroke-width="1"/>
<line x1="111.5" y1="798" x2="223" y2="798" stroke="#1e1e1e" stroke-width="1.5" stroke-linecap="butt"/>
<line x1="151.9" y1="798" x2="151.9" y2="903.5" stroke="#4a4a4a" stroke-width="1" stroke-linecap="butt"/>
<line x1="183.4" y1="798" x2="183.4" y2="903.5" stroke="#4a4a4a" stroke-width="1" stroke-linecap="butt"/>
<line x1="215" y1="798" x2="215" y2="903.5" stroke="#4a4a4a" stroke-width="1" stroke-linecap="butt"/>
<line x1="115.7" y1="828.8" x2="221" y2="828.8" stroke="#4a4a4a" stroke-width="1" stroke-linecap="butt"/>
<line x1="115.7" y1="860.3" x2="221" y2="860.3" stroke="#4a4a4a" stroke-width="1" stroke-linecap="butt"/>
<line x1="115.7" y1="891.9" x2="221" y2="891.9" stroke="#4a4a4a" stroke-width="1" stroke-linecap="butt"/>
<rect x="115.7" y="798" width="23.8" height="55.3" rx="0" fill="#fff" stroke="#1e1e1e" stroke-width="1.2"/>
<ellipse cx="127.8" cy="826" rx="7" ry="11" fill="none" stroke="#1e1e1e" stroke-width="1.2"/>
<rect x="115.2" y="862.7" width="54.2" height="40.8" rx="0" fill="#fff" stroke="#1e1e1e" stroke-width="1.3"/>
<line x1="115.2" y1="862.7" x2="169.4" y2="903.5" stroke="#1e1e1e" stroke-width="1.1" stroke-linecap="butt"/>
<line x1="169.4" y1="862.7" x2="115.2" y2="903.5" stroke="#1e1e1e" stroke-width="1.1" stroke-linecap="butt"/>
<circle cx="141.8" cy="883" r="3.3" fill="#fff" stroke="#1e1e1e" stroke-width="1"/>
<line x1="138.5" y1="883" x2="145.1" y2="883" stroke="#1e1e1e" stroke-width="0.8" stroke-linecap="butt"/>
<line x1="141.8" y1="879.7" x2="141.8" y2="886.3" stroke="#1e1e1e" stroke-width="0.8" stroke-linecap="butt"/>
<rect x="187" y="896.5" width="18.6" height="7" rx="0" fill="#fff" stroke="#1e1e1e" stroke-width="1.2"/>
<ellipse cx="196.3" cy="886.2" rx="8.5" ry="10.5" fill="#fff" stroke="#1e1e1e" stroke-width="1.3"/>
<ellipse cx="196.3" cy="886.2" rx="5.5" ry="7.5" fill="none" stroke="#1e1e1e" stroke-width="1"/>
<text x="0" y="0" font-family="Liberation Sans" font-size="28" font-weight="normal" text-anchor="middle" fill="#1e1e1e" stroke="#1e1e1e" stroke-width="0.25" transform="translate(311.2 790) scale(1.03 1.08)">BALCONY</text>
<line x1="291.3" y1="804.3" x2="319" y2="804.3" stroke="#1e1e1e" stroke-width="1.3" stroke-linecap="butt"/>
<path d="M327 804.3 L319 801.7 L319 806.9 Z" fill="#1e1e1e"/>
<text x="0" y="0" font-family="Liberation Sans" font-size="27" font-weight="normal" text-anchor="middle" fill="#1e1e1e" stroke="#1e1e1e" stroke-width="0.25" transform="translate(172.3 848.7) scale(1.03 1.08)">ENS</text>
<text x="0" y="0" font-family="Liberation Sans" font-size="23" font-weight="normal" text-anchor="middle" fill="#1e1e1e" stroke="#1e1e1e" stroke-width="0.25" transform="translate(167 976) scale(1.03 1.08)">WIR</text>
<text x="0" y="0" font-family="Liberation Sans" font-size="28" font-weight="normal" text-anchor="middle" fill="#1e1e1e" stroke="#1e1e1e" stroke-width="0.25" transform="translate(310.6 922.2) scale(1.03 1.08)">MASTER</text>
<text x="0" y="0" font-family="Liberation Sans" font-size="28" font-weight="normal" text-anchor="middle" fill="#1e1e1e" stroke="#1e1e1e" stroke-width="0.25" transform="translate(310.6 951.4) scale(1.03 1.08)">BEDROOM</text>
<rect x="31.7" y="1007.9" width="22.2" height="22.1" fill="#1e1e1e"/>
<rect x="31.7" y="1113" width="22.2" height="21.5" fill="#1e1e1e"/>
<line x1="53.9" y1="1010" x2="111" y2="1010" stroke="#1e1e1e" stroke-width="1.4" stroke-linecap="butt"/>
<line x1="33.5" y1="1030" x2="33.5" y2="1113" stroke="#1e1e1e" stroke-width="1.4" stroke-linecap="butt"/>
<path d="M53.9 1114 L111 1114 L111 1089.6" fill="none" stroke="#1e1e1e" stroke-width="4" stroke-linecap="square" stroke-linejoin="miter"/>
<line x1="111" y1="1089.6" x2="144" y2="1089.6" stroke="#1e1e1e" stroke-width="1.5" stroke-linecap="butt"/>
<path d="M144 1089.6 A33 33 0 0 0 111 1056.5" fill="none" stroke="#1e1e1e" stroke-width="1.3"/>
<text x="0" y="0" font-family="Liberation Sans" font-size="23" font-weight="normal" text-anchor="middle" fill="#1e1e1e" stroke="#1e1e1e" stroke-width="0.25" transform="translate(81.4 1081.4) scale(1.03 1.08)">PORCH</text>
<text x="0" y="0" font-family="Liberation Sans" font-size="28" font-weight="normal" text-anchor="middle" fill="#1e1e1e" stroke="#1e1e1e" stroke-width="0.25" transform="translate(203.3 1089.6) scale(1.03 1.08)">ENTRY</text>
<path d="M111 1114 L111 1129.3 L147.3 1129.3" fill="none" stroke="#1e1e1e" stroke-width="3.2" stroke-linecap="square" stroke-linejoin="miter"/>
<line x1="181" y1="1129.3" x2="181" y2="1162" stroke="#1e1e1e" stroke-width="1.5" stroke-linecap="butt"/>
<path d="M181 1162 A32.7 32.7 0 0 1 147.3 1129.3" fill="none" stroke="#1e1e1e" stroke-width="1.3"/>
<path d="M181 1129.3 L247.7 1129.3" fill="none" stroke="#1e1e1e" stroke-width="3.2" stroke-linecap="square" stroke-linejoin="miter"/>
<line x1="280.4" y1="1129.3" x2="280.4" y2="1162" stroke="#1e1e1e" stroke-width="1.5" stroke-linecap="butt"/>
<path d="M280.4 1162 A32.7 32.7 0 0 1 247.7 1129.3" fill="none" stroke="#1e1e1e" stroke-width="1.3"/>
<path d="M280.4 1129.3 L287 1129.3" fill="none" stroke="#1e1e1e" stroke-width="3.2" stroke-linecap="square" stroke-linejoin="miter"/>
<path d="M52 1134 L52 1160.8" fill="none" stroke="#1e1e1e" stroke-width="4" stroke-linecap="square" stroke-linejoin="miter"/>
<rect x="46.9" y="1160.8" width="10.2" height="43.9" fill="#fff"/>
<line x1="47.9" y1="1160.8" x2="47.9" y2="1204.7" stroke="#1e1e1e" stroke-width="1.3" stroke-linecap="butt"/>
<line x1="56.1" y1="1160.8" x2="56.1" y2="1204.7" stroke="#1e1e1e" stroke-width="1.3" stroke-linecap="butt"/>
<line x1="52" y1="1160.8" x2="52" y2="1204.7" stroke="#1e1e1e" stroke-width="1.1" stroke-linecap="butt"/>
<line x1="45" y1="1160.8" x2="59" y2="1160.8" stroke="#1e1e1e" stroke-width="1.43" stroke-linecap="butt"/>
<line x1="45" y1="1204.7" x2="59" y2="1204.7" stroke="#1e1e1e" stroke-width="1.43" stroke-linecap="butt"/>
<path d="M52 1204.7 L52 1232" fill="none" stroke="#1e1e1e" stroke-width="4" stroke-linecap="square" stroke-linejoin="miter"/>
<rect x="46.9" y="1232" width="10.2" height="43.3" fill="#fff"/>
<line x1="47.9" y1="1232" x2="47.9" y2="1275.3" stroke="#1e1e1e" stroke-width="1.3" stroke-linecap="butt"/>
<line x1="56.1" y1="1232" x2="56.1" y2="1275.3" stroke="#1e1e1e" stroke-width="1.3" stroke-linecap="butt"/>
<line x1="52" y1="1232" x2="52" y2="1275.3" stroke="#1e1e1e" stroke-width="1.1" stroke-linecap="butt"/>
<line x1="45" y1="1232" x2="59" y2="1232" stroke="#1e1e1e" stroke-width="1.43" stroke-linecap="butt"/>
<line x1="45" y1="1275.3" x2="59" y2="1275.3" stroke="#1e1e1e" stroke-width="1.43" stroke-linecap="butt"/>
<path d="M52 1275.3 L52 1292.9 L345.5 1292.9" fill="none" stroke="#1e1e1e" stroke-width="4" stroke-linecap="square" stroke-linejoin="miter"/>
<line x1="219.7" y1="1129.3" x2="219.7" y2="1292.9" stroke="#1e1e1e" stroke-width="1.4" stroke-linecap="butt"/>
<path d="M245.4 1129.3 L245.4 1292.9" fill="none" stroke="#1e1e1e" stroke-width="3.4" stroke-linecap="square" stroke-linejoin="miter"/>
<path d="M219.7 1171.3 L245.4 1171.3" fill="none" stroke="#1e1e1e" stroke-width="2.4" stroke-linecap="butt" stroke-linejoin="miter"/>
<path d="M219.7 1249.6 L245.4 1249.6" fill="none" stroke="#1e1e1e" stroke-width="2.4" stroke-linecap="butt" stroke-linejoin="miter"/>
<text x="0" y="0" font-family="Liberation Sans" font-size="23" font-weight="normal" text-anchor="middle" fill="#1e1e1e" stroke="#1e1e1e" stroke-width="0.25" transform="translate(240.7 1210.3) rotate(-90) scale(1.03 1.08)">BIR</text>
<text x="0" y="0" font-family="Liberation Sans" font-size="28" font-weight="normal" text-anchor="middle" fill="#1e1e1e" stroke="#1e1e1e" stroke-width="0.25" transform="translate(134.4 1221.6) scale(1.03 1.08)">BEDROOM</text>
<line x1="245.4" y1="1145.7" x2="310.8" y2="1145.7" stroke="#4a4a4a" stroke-width="1" stroke-linecap="butt"/>
<line x1="245.4" y1="1177.2" x2="310.8" y2="1177.2" stroke="#4a4a4a" stroke-width="1" stroke-linecap="butt"/>
<line x1="245.4" y1="1208.7" x2="310.8" y2="1208.7" stroke="#4a4a4a" stroke-width="1" stroke-linecap="butt"/>
<line x1="245.4" y1="1240.2" x2="310.8" y2="1240.2" stroke="#4a4a4a" stroke-width="1" stroke-linecap="butt"/>
<line x1="278" y1="1131" x2="278" y2="1267" stroke="#4a4a4a" stroke-width="1" stroke-linecap="butt"/>
<rect x="286.2" y="1129.3" width="50.2" height="23.4" rx="0" fill="#fff" stroke="#1e1e1e" stroke-width="2.4"/>
<text x="0" y="0" font-family="Liberation Sans" font-size="22" font-weight="normal" text-anchor="middle" fill="#1e1e1e" stroke="#1e1e1e" stroke-width="0.25" transform="translate(311 1149.5) scale(1.03 1.08)">C</text>
<path d="M310.8 1152.7 L310.8 1292.9" fill="none" stroke="#1e1e1e" stroke-width="3.2" stroke-linecap="square" stroke-linejoin="miter"/>
<path d="M310.8 1222.7 L336.4 1222.7" fill="none" stroke="#1e1e1e" stroke-width="2.4" stroke-linecap="butt" stroke-linejoin="miter"/>
<line x1="336.6" y1="1152.7" x2="336.6" y2="1292.9" stroke="#1e1e1e" stroke-width="1.4" stroke-linecap="butt"/>
<path d="M337 1129.3 L337 1150" fill="none" stroke="#1e1e1e" stroke-width="2.8" stroke-linecap="square" stroke-linejoin="miter"/>
<text x="0" y="0" font-family="Liberation Sans" font-size="22" font-weight="normal" text-anchor="middle" fill="#1e1e1e" stroke="#1e1e1e" stroke-width="0.25" transform="translate(325.4 1197) scale(1.03 1.08)">C</text>
<text x="0" y="0" font-family="Liberation Sans" font-size="22" font-weight="normal" text-anchor="middle" fill="#1e1e1e" stroke="#1e1e1e" stroke-width="0.25" transform="translate(326 1267) scale(1.03 1.08)">L</text>
<path d="M245.4 1267 L310.8 1267" fill="none" stroke="#1e1e1e" stroke-width="3" stroke-linecap="butt" stroke-linejoin="miter"/>
<text x="0" y="0" font-family="Liberation Sans" font-size="22" font-weight="normal" text-anchor="middle" fill="#1e1e1e" stroke="#1e1e1e" stroke-width="0.25" transform="translate(278.7 1288) scale(1.03 1.08)">L</text>
<rect x="304.4" y="1166.7" width="5.2" height="18.7" rx="0" fill="#fff" stroke="#1e1e1e" stroke-width="1.2"/>
<ellipse cx="294.2" cy="1176" rx="10" ry="8" fill="#fff" stroke="#1e1e1e" stroke-width="1.3"/>
<ellipse cx="294.2" cy="1176" rx="7" ry="5.2" fill="none" stroke="#1e1e1e" stroke-width="1"/>
<rect x="286.2" y="1198.2" width="23.4" height="43.2" rx="0" fill="#fff" stroke="#1e1e1e" stroke-width="1.2"/>
<ellipse cx="299" cy="1219.2" rx="7" ry="11" fill="none" stroke="#1e1e1e" stroke-width="1.2"/>
<line x1="337" y1="1145.7" x2="435.5" y2="1145.7" stroke="#4a4a4a" stroke-width="1" stroke-linecap="butt"/>
<line x1="337" y1="1177.2" x2="435.5" y2="1177.2" stroke="#4a4a4a" stroke-width="1" stroke-linecap="butt"/>
<line x1="337" y1="1208.7" x2="435.5" y2="1208.7" stroke="#4a4a4a" stroke-width="1" stroke-linecap="butt"/>
<line x1="337" y1="1240.6" x2="435.5" y2="1240.6" stroke="#4a4a4a" stroke-width="1" stroke-linecap="butt"/>
<line x1="337" y1="1271.9" x2="435.5" y2="1271.9" stroke="#4a4a4a" stroke-width="1" stroke-linecap="butt"/>
<line x1="341.2" y1="1129.3" x2="341.2" y2="1292.9" stroke="#4a4a4a" stroke-width="1" stroke-linecap="butt"/>
<line x1="373" y1="1129.3" x2="373" y2="1292.9" stroke="#4a4a4a" stroke-width="1" stroke-linecap="butt"/>
<line x1="404.5" y1="1129.3" x2="404.5" y2="1292.9" stroke="#4a4a4a" stroke-width="1" stroke-linecap="butt"/>
<line x1="343.2" y1="1129.3" x2="343.2" y2="1162" stroke="#1e1e1e" stroke-width="1.5" stroke-linecap="butt"/>
<path d="M343.2 1162 A32.7 32.7 0 0 0 375.9 1129.3" fill="none" stroke="#1e1e1e" stroke-width="1.3"/>
<path d="M375.9 1129.3 L552.2 1129.3" fill="none" stroke="#1e1e1e" stroke-width="3.2" stroke-linecap="square" stroke-linejoin="miter"/>
<path d="M435.5 1129.3 L435.5 1292.9" fill="none" stroke="#1e1e1e" stroke-width="3.6" stroke-linecap="square" stroke-linejoin="miter"/>
<rect x="411" y="1171.3" width="23.3" height="78.2" rx="0" fill="#fff" stroke="#1e1e1e" stroke-width="1.3"/>
<rect x="415.6" y="1176" width="14.7" height="19.9" rx="0" fill="none" stroke="#1e1e1e" stroke-width="1.2"/>
<text x="0" y="0" font-family="Liberation Sans" font-size="22" font-weight="normal" text-anchor="middle" fill="#1e1e1e" stroke="#1e1e1e" stroke-width="0.25" transform="translate(408.5 1160.8) scale(1.03 1.08)">WM</text>
<text x="0" y="0" font-family="Liberation Sans" font-size="28" font-weight="normal" text-anchor="middle" fill="#1e1e1e" stroke="#1e1e1e" stroke-width="0.25" transform="translate(392.2 1213.4) rotate(-90) scale(1.03 1.08)">L&#8217;DRY</text>
<path d="M345.5 1292.9 L345.5 1260.2" fill="none" stroke="#1e1e1e" stroke-width="2.6" stroke-linecap="square" stroke-linejoin="miter"/>
<path d="M345.5 1260.2 A33 33 0 0 1 378.5 1293" fill="none" stroke="#1e1e1e" stroke-width="1.3"/>
<path d="M379.4 1292.9 L397.8 1292.9" fill="none" stroke="#1e1e1e" stroke-width="4" stroke-linecap="square" stroke-linejoin="miter"/>
<path d="M432.5 1292.9 L432.5 1260.2" fill="none" stroke="#1e1e1e" stroke-width="2.6" stroke-linecap="square" stroke-linejoin="miter"/>
<path d="M432.5 1260.2 A34 34 0 0 0 398.5 1293" fill="none" stroke="#1e1e1e" stroke-width="1.3"/>
<path d="M432.5 1292.9 L486.3 1292.9" fill="none" stroke="#1e1e1e" stroke-width="4" stroke-linecap="square" stroke-linejoin="miter"/>
<rect x="486.3" y="1287.8" width="85.2" height="10.2" fill="#fff"/>
<line x1="486.3" y1="1288.8" x2="571.5" y2="1288.8" stroke="#1e1e1e" stroke-width="1.3" stroke-linecap="butt"/>
<line x1="486.3" y1="1297" x2="571.5" y2="1297" stroke="#1e1e1e" stroke-width="1.3" stroke-linecap="butt"/>
<line x1="486.3" y1="1292.9" x2="571.5" y2="1292.9" stroke="#1e1e1e" stroke-width="1.1" stroke-linecap="butt"/>
<line x1="486.3" y1="1285.9" x2="486.3" y2="1299.9" stroke="#1e1e1e" stroke-width="1.43" stroke-linecap="butt"/>
<line x1="529" y1="1285.9" x2="529" y2="1299.9" stroke="#1e1e1e" stroke-width="1.43" stroke-linecap="butt"/>
<line x1="571.5" y1="1285.9" x2="571.5" y2="1299.9" stroke="#1e1e1e" stroke-width="1.43" stroke-linecap="butt"/>
<path d="M571.5 1292.9 L635.7 1292.9" fill="none" stroke="#1e1e1e" stroke-width="4" stroke-linecap="square" stroke-linejoin="miter"/>
<rect x="635.7" y="1287.8" width="87.5" height="10.2" fill="#fff"/>
<line x1="635.7" y1="1288.8" x2="723.2" y2="1288.8" stroke="#1e1e1e" stroke-width="1.3" stroke-linecap="butt"/>
<line x1="635.7" y1="1297" x2="723.2" y2="1297" stroke="#1e1e1e" stroke-width="1.3" stroke-linecap="butt"/>
<line x1="635.7" y1="1292.9" x2="723.2" y2="1292.9" stroke="#1e1e1e" stroke-width="1.1" stroke-linecap="butt"/>
<line x1="635.7" y1="1285.9" x2="635.7" y2="1299.9" stroke="#1e1e1e" stroke-width="1.43" stroke-linecap="butt"/>
<line x1="680.3" y1="1285.9" x2="680.3" y2="1299.9" stroke="#1e1e1e" stroke-width="1.43" stroke-linecap="butt"/>
<line x1="723.2" y1="1285.9" x2="723.2" y2="1299.9" stroke="#1e1e1e" stroke-width="1.43" stroke-linecap="butt"/>
<path d="M723.2 1292.9 L914 1292.9" fill="none" stroke="#1e1e1e" stroke-width="4" stroke-linecap="square" stroke-linejoin="miter"/>
<line x1="371.2" y1="1028.2" x2="371.2" y2="1080.3" stroke="#1e1e1e" stroke-width="1.3" stroke-linecap="butt"/>
<line x1="384" y1="1028.2" x2="384" y2="1080.3" stroke="#1e1e1e" stroke-width="1.3" stroke-linecap="butt"/>
<line x1="397.6" y1="1028.2" x2="397.6" y2="1080.3" stroke="#1e1e1e" stroke-width="1.3" stroke-linecap="butt"/>
<line x1="409.8" y1="1028.2" x2="409.8" y2="1080.3" stroke="#1e1e1e" stroke-width="1.3" stroke-linecap="butt"/>
<line x1="422.6" y1="1028.2" x2="422.6" y2="1080.3" stroke="#1e1e1e" stroke-width="1.3" stroke-linecap="butt"/>
<line x1="435.5" y1="1028.2" x2="435.5" y2="1080.3" stroke="#1e1e1e" stroke-width="1.3" stroke-linecap="butt"/>
<line x1="448.3" y1="1028.2" x2="448.3" y2="1080.3" stroke="#1e1e1e" stroke-width="1.3" stroke-linecap="butt"/>
<line x1="461.1" y1="1028.2" x2="461.1" y2="1080.3" stroke="#1e1e1e" stroke-width="1.3" stroke-linecap="butt"/>
<line x1="474" y1="1028.2" x2="474" y2="1080.3" stroke="#1e1e1e" stroke-width="1.3" stroke-linecap="butt"/>
<line x1="486.8" y1="1028.2" x2="486.8" y2="1080.3" stroke="#1e1e1e" stroke-width="1.3" stroke-linecap="butt"/>
<line x1="499.7" y1="1028.2" x2="499.7" y2="1080.3" stroke="#1e1e1e" stroke-width="1.3" stroke-linecap="butt"/>
<line x1="397.6" y1="1080.3" x2="397.6" y2="1129.3" stroke="#1e1e1e" stroke-width="1.1" stroke-linecap="butt"/>
<line x1="409.8" y1="1080.3" x2="409.8" y2="1129.3" stroke="#1e1e1e" stroke-width="1.1" stroke-linecap="butt"/>
<line x1="422.6" y1="1080.3" x2="422.6" y2="1129.3" stroke="#1e1e1e" stroke-width="1.1" stroke-linecap="butt"/>
<line x1="435.5" y1="1080.3" x2="435.5" y2="1129.3" stroke="#1e1e1e" stroke-width="1.1" stroke-linecap="butt"/>
<line x1="365.4" y1="1080.3" x2="614" y2="1080.3" stroke="#1e1e1e" stroke-width="1.4" stroke-linecap="butt"/>
<line x1="614" y1="1030" x2="614" y2="1080.3" stroke="#1e1e1e" stroke-width="1.4" stroke-linecap="butt"/>
<line x1="511.3" y1="1031" x2="499.7" y2="1079" stroke="#1e1e1e" stroke-width="1.4" stroke-linecap="butt"/>
<rect x="422.6" y="1023" width="208.4" height="8" fill="#fff"/>
<line x1="422.6" y1="1024" x2="631" y2="1024" stroke="#1e1e1e" stroke-width="1.3" stroke-linecap="butt"/>
<line x1="422.6" y1="1030" x2="631" y2="1030" stroke="#1e1e1e" stroke-width="1.3" stroke-linecap="butt"/>
<line x1="423.8" y1="1020" x2="423.8" y2="1034" stroke="#1e1e1e" stroke-width="1.43" stroke-linecap="butt"/>
<line x1="464.6" y1="1020" x2="464.6" y2="1034" stroke="#1e1e1e" stroke-width="1.43" stroke-linecap="butt"/>
<line x1="506.7" y1="1020" x2="506.7" y2="1034" stroke="#1e1e1e" stroke-width="1.43" stroke-linecap="butt"/>
<line x1="548" y1="1020" x2="548" y2="1034" stroke="#1e1e1e" stroke-width="1.43" stroke-linecap="butt"/>
<line x1="589.6" y1="1020" x2="589.6" y2="1034" stroke="#1e1e1e" stroke-width="1.43" stroke-linecap="butt"/>
<line x1="631" y1="1020" x2="631" y2="1034" stroke="#1e1e1e" stroke-width="1.43" stroke-linecap="butt"/>
<text x="0" y="0" font-family="Liberation Sans" font-size="18" font-weight="normal" text-anchor="middle" fill="#1e1e1e" stroke="#1e1e1e" stroke-width="0.25" transform="translate(350.2 1060.9) scale(1.03 1.08)">DN</text>
<line x1="365.4" y1="1054.6" x2="386.6" y2="1054.6" stroke="#1e1e1e" stroke-width="1.2" stroke-linecap="butt"/>
<path d="M394.6 1054.6 L386.6 1052 L386.6 1057.2 Z" fill="#1e1e1e"/>
<text x="0" y="0" font-family="Liberation Sans" font-size="18" font-weight="normal" text-anchor="middle" fill="#1e1e1e" stroke="#1e1e1e" stroke-width="0.25" transform="translate(375.8 1111.8) scale(1.03 1.08)">UP</text>
<line x1="390" y1="1104.8" x2="412.3" y2="1104.8" stroke="#1e1e1e" stroke-width="1.2" stroke-linecap="butt"/>
<path d="M420.3 1104.8 L412.3 1102.2 L412.3 1107.4 Z" fill="#1e1e1e"/>
<text x="0" y="0" font-family="Liberation Sans" font-size="23" font-weight="normal" text-anchor="middle" fill="#1e1e1e" stroke="#1e1e1e" stroke-width="0.25" transform="translate(560.4 1067.4) scale(1.03 1.08)">VOID</text>
<path d="M631 1028.7 L640.4 1028.7 L640.4 857.3 L695.9 857.3" fill="none" stroke="#1e1e1e" stroke-width="4" stroke-linecap="square" stroke-linejoin="miter"/>
<rect x="695.9" y="852.2" width="167.6" height="10.2" fill="#fff"/>
<line x1="695.9" y1="853.2" x2="863.5" y2="853.2" stroke="#1e1e1e" stroke-width="1.3" stroke-linecap="butt"/>
<line x1="695.9" y1="861.4" x2="863.5" y2="861.4" stroke="#1e1e1e" stroke-width="1.3" stroke-linecap="butt"/>
<line x1="695.9" y1="857.3" x2="863.5" y2="857.3" stroke="#1e1e1e" stroke-width="1.1" stroke-linecap="butt"/>
<line x1="695.9" y1="850.3" x2="695.9" y2="864.3" stroke="#1e1e1e" stroke-width="1.43" stroke-linecap="butt"/>
<line x1="737.8" y1="850.3" x2="737.8" y2="864.3" stroke="#1e1e1e" stroke-width="1.43" stroke-linecap="butt"/>
<line x1="779.2" y1="850.3" x2="779.2" y2="864.3" stroke="#1e1e1e" stroke-width="1.43" stroke-linecap="butt"/>
<line x1="820.9" y1="850.3" x2="820.9" y2="864.3" stroke="#1e1e1e" stroke-width="1.43" stroke-linecap="butt"/>
<line x1="863.5" y1="850.3" x2="863.5" y2="864.3" stroke="#1e1e1e" stroke-width="1.43" stroke-linecap="butt"/>
<line x1="743.4" y1="846.4" x2="766" y2="846.4" stroke="#1e1e1e" stroke-width="1.3" stroke-linecap="butt"/>
<path d="M774 846.4 L766 843.8 L766 849 Z" fill="#1e1e1e"/>
<line x1="815.9" y1="846.4" x2="792.9" y2="846.4" stroke="#1e1e1e" stroke-width="1.3" stroke-linecap="butt"/>
<path d="M784.9 846.4 L792.9 843.8 L792.9 849 Z" fill="#1e1e1e"/>
<path d="M863.5 857.3 L913.3 857.3 L913.3 870.9" fill="none" stroke="#1e1e1e" stroke-width="4" stroke-linecap="square" stroke-linejoin="miter"/>
<rect x="908.2" y="870.9" width="10.2" height="206.1" fill="#fff"/>
<line x1="909.2" y1="870.9" x2="909.2" y2="1077" stroke="#1e1e1e" stroke-width="1.3" stroke-linecap="butt"/>
<line x1="917.4" y1="870.9" x2="917.4" y2="1077" stroke="#1e1e1e" stroke-width="1.3" stroke-linecap="butt"/>
<line x1="913.3" y1="870.9" x2="913.3" y2="1077" stroke="#1e1e1e" stroke-width="1.1" stroke-linecap="butt"/>
<line x1="906.3" y1="870.9" x2="920.3" y2="870.9" stroke="#1e1e1e" stroke-width="1.43" stroke-linecap="butt"/>
<line x1="906.3" y1="922.4" x2="920.3" y2="922.4" stroke="#1e1e1e" stroke-width="1.43" stroke-linecap="butt"/>
<line x1="906.3" y1="973.9" x2="920.3" y2="973.9" stroke="#1e1e1e" stroke-width="1.43" stroke-linecap="butt"/>
<line x1="906.3" y1="1025.6" x2="920.3" y2="1025.6" stroke="#1e1e1e" stroke-width="1.43" stroke-linecap="butt"/>
<line x1="906.3" y1="1077" x2="920.3" y2="1077" stroke="#1e1e1e" stroke-width="1.43" stroke-linecap="butt"/>
<path d="M913.3 1077 L913.3 1146.4" fill="none" stroke="#1e1e1e" stroke-width="4" stroke-linecap="square" stroke-linejoin="miter"/>
<rect x="908.2" y="1146.4" width="10.2" height="129.5" fill="#fff"/>
<line x1="909.2" y1="1146.4" x2="909.2" y2="1275.9" stroke="#1e1e1e" stroke-width="1.3" stroke-linecap="butt"/>
<line x1="917.4" y1="1146.4" x2="917.4" y2="1275.9" stroke="#1e1e1e" stroke-width="1.3" stroke-linecap="butt"/>
<line x1="913.3" y1="1146.4" x2="913.3" y2="1275.9" stroke="#1e1e1e" stroke-width="1.1" stroke-linecap="butt"/>
<line x1="906.3" y1="1146.4" x2="920.3" y2="1146.4" stroke="#1e1e1e" stroke-width="1.43" stroke-linecap="butt"/>
<line x1="906.3" y1="1188.4" x2="920.3" y2="1188.4" stroke="#1e1e1e" stroke-width="1.43" stroke-linecap="butt"/>
<line x1="906.3" y1="1233.9" x2="920.3" y2="1233.9" stroke="#1e1e1e" stroke-width="1.43" stroke-linecap="butt"/>
<line x1="906.3" y1="1275.9" x2="920.3" y2="1275.9" stroke="#1e1e1e" stroke-width="1.43" stroke-linecap="butt"/>
<path d="M913.3 1275.9 L913.3 1292.9" fill="none" stroke="#1e1e1e" stroke-width="4" stroke-linecap="square" stroke-linejoin="miter"/>
<line x1="923.5" y1="929" x2="923.5" y2="958.5" stroke="#1e1e1e" stroke-width="1.3" stroke-linecap="butt"/>
<path d="M923.5 966.5 L920.9 958.5 L926.1 958.5 Z" fill="#1e1e1e"/>
<line x1="923.5" y1="1018.6" x2="923.5" y2="989.2" stroke="#1e1e1e" stroke-width="1.3" stroke-linecap="butt"/>
<path d="M923.5 981.2 L920.9 989.2 L926.1 989.2 Z" fill="#1e1e1e"/>
<line x1="924.3" y1="1228.8" x2="924.3" y2="1200.9" stroke="#1e1e1e" stroke-width="1.3" stroke-linecap="butt"/>
<path d="M924.3 1192.9 L921.7 1200.9 L926.9 1200.9 Z" fill="#1e1e1e"/>
<line x1="668.7" y1="860" x2="668.7" y2="1028.7" stroke="#1e1e1e" stroke-width="1.4" stroke-linecap="butt"/>
<line x1="640.4" y1="1028.7" x2="668.7" y2="1028.7" stroke="#1e1e1e" stroke-width="1.4" stroke-linecap="butt"/>
<rect x="646.7" y="861.2" width="27.2" height="27.1" fill="none" stroke="#1e1e1e" stroke-width="1.2" stroke-dasharray="7 4"/>
<text x="0" y="0" font-family="Liberation Sans" font-size="19" font-weight="normal" text-anchor="middle" fill="#1e1e1e" stroke="#1e1e1e" stroke-width="0.25" transform="translate(659.7 883.8) scale(1.03 1.08)">F</text>
<rect x="644.5" y="926.2" width="20.8" height="21" rx="2.5" fill="none" stroke="#1e1e1e" stroke-width="1.2"/>
<circle cx="650" cy="931.7" r="3.4" fill="none" stroke="#1e1e1e" stroke-width="1.1"/>
<circle cx="650" cy="941.5" r="3.4" fill="none" stroke="#1e1e1e" stroke-width="1.1"/>
<circle cx="659.8" cy="931.7" r="3.4" fill="none" stroke="#1e1e1e" stroke-width="1.1"/>
<circle cx="659.8" cy="941.5" r="3.4" fill="none" stroke="#1e1e1e" stroke-width="1.1"/>
<circle cx="655.6" cy="1009" r="6.8" fill="none" stroke="#1e1e1e" stroke-width="1.3"/>
<text x="0" y="0" font-family="Liberation Sans" font-size="23" font-weight="normal" text-anchor="middle" fill="#1e1e1e" stroke="#1e1e1e" stroke-width="0.25" transform="translate(703.5 950.5) rotate(-90) scale(1.03 1.08)">KITCHENETTE</text>
<text x="0" y="0" font-family="Liberation Sans" font-size="28" font-weight="normal" text-anchor="middle" fill="#1e1e1e" stroke="#1e1e1e" stroke-width="0.25" transform="translate(802 996.6) scale(1.03 1.08)">LOUNGE</text>
<line x1="639.2" y1="754" x2="1015.2" y2="754" stroke="#1e1e1e" stroke-width="1.8" stroke-linecap="square"/>
<line x1="640" y1="754" x2="640" y2="857" stroke="#1e1e1e" stroke-width="1.5" stroke-linecap="butt"/>
<line x1="1014.6" y1="754" x2="1014.6" y2="1293.4" stroke="#1e1e1e" stroke-width="1.6" stroke-linecap="square"/>
<line x1="914" y1="1293.4" x2="1014.6" y2="1293.4" stroke="#1e1e1e" stroke-width="1.5" stroke-linecap="butt"/>
<rect x="639.2" y="753.5" width="13" height="13.3" fill="#1e1e1e"/>
<rect x="760.9" y="753.5" width="13" height="13.3" fill="#1e1e1e"/>
<rect x="880.8" y="753.5" width="13" height="13.3" fill="#1e1e1e"/>
<rect x="1001.6" y="753.5" width="13" height="13.3" fill="#1e1e1e"/>
<rect x="1001.6" y="918.4" width="13.6" height="13.1" fill="#1e1e1e"/>
<rect x="1001.6" y="1039" width="13.6" height="13.1" fill="#1e1e1e"/>
<rect x="1001.6" y="1159.5" width="13.6" height="13.1" fill="#1e1e1e"/>
<rect x="1001.6" y="1280.3" width="13.6" height="13.1" fill="#1e1e1e"/>
<text x="0" y="0" font-family="Liberation Sans" font-size="28" font-weight="normal" text-anchor="middle" fill="#1e1e1e" stroke="#1e1e1e" stroke-width="0.25" transform="translate(975.3 1044) rotate(-90) scale(1.03 1.08)">BALCONY</text>
<line x1="586" y1="1129.3" x2="586" y2="1162" stroke="#1e1e1e" stroke-width="1.5" stroke-linecap="butt"/>
<path d="M586 1162 A32.7 32.7 0 0 1 552.2 1129.3" fill="none" stroke="#1e1e1e" stroke-width="1.3"/>
<path d="M586 1129.7 L591 1129.7" fill="none" stroke="#1e1e1e" stroke-width="3.2" stroke-linecap="square" stroke-linejoin="miter"/>
<rect x="591" y="1129.7" width="49.7" height="23.6" rx="0" fill="none" stroke="#1e1e1e" stroke-width="2.4"/>
<path d="M591 1129.7 L591 1292.9" fill="none" stroke="#1e1e1e" stroke-width="3.4" stroke-linecap="square" stroke-linejoin="miter"/>
<path d="M616 1153.3 L616 1292.9" fill="none" stroke="#1e1e1e" stroke-width="3.2" stroke-linecap="square" stroke-linejoin="miter"/>
<path d="M591 1237.5 L616 1237.5" fill="none" stroke="#1e1e1e" stroke-width="2.6" stroke-linecap="butt" stroke-linejoin="miter"/>
<text x="0" y="0" font-family="Liberation Sans" font-size="22" font-weight="normal" text-anchor="middle" fill="#1e1e1e" stroke="#1e1e1e" stroke-width="0.25" transform="translate(618.2 1148) scale(1.03 1.08)">L</text>
<text x="0" y="0" font-family="Liberation Sans" font-size="23" font-weight="normal" text-anchor="middle" fill="#1e1e1e" stroke="#1e1e1e" stroke-width="0.25" transform="translate(611.8 1197) rotate(-90) scale(1.03 1.08)">BIR</text>
<text x="0" y="0" font-family="Liberation Sans" font-size="14" font-weight="normal" text-anchor="middle" fill="#1e1e1e" stroke="#1e1e1e" stroke-width="0.25" transform="translate(609.4 1265.8) rotate(-90) scale(1.03 1.08)">DESK</text>
<line x1="616" y1="1144.6" x2="689" y2="1144.6" stroke="#4a4a4a" stroke-width="1" stroke-linecap="butt"/>
<line x1="616" y1="1176.8" x2="689" y2="1176.8" stroke="#4a4a4a" stroke-width="1" stroke-linecap="butt"/>
<line x1="616" y1="1209" x2="689" y2="1209" stroke="#4a4a4a" stroke-width="1" stroke-linecap="butt"/>
<line x1="616" y1="1240" x2="689" y2="1240" stroke="#4a4a4a" stroke-width="1" stroke-linecap="butt"/>
<line x1="616" y1="1272.2" x2="689" y2="1272.2" stroke="#4a4a4a" stroke-width="1" stroke-linecap="butt"/>
<line x1="625.8" y1="1153.3" x2="625.8" y2="1292.9" stroke="#4a4a4a" stroke-width="1" stroke-linecap="butt"/>
<line x1="658" y1="1153.3" x2="658" y2="1292.9" stroke="#4a4a4a" stroke-width="1" stroke-linecap="butt"/>
<rect x="616" y="1153.3" width="24.7" height="79.2" rx="0" fill="#fff" stroke="#1e1e1e" stroke-width="1.3"/>
<ellipse cx="628.8" cy="1192.9" rx="7" ry="11" fill="none" stroke="#1e1e1e" stroke-width="1.2"/>
<path d="M640.7 1129.7 L651.8 1129.7" fill="none" stroke="#1e1e1e" stroke-width="3.2" stroke-linecap="square" stroke-linejoin="miter"/>
<line x1="684" y1="1129.7" x2="684" y2="1163" stroke="#1e1e1e" stroke-width="1.5" stroke-linecap="butt"/>
<path d="M684 1163 A33.3 33.3 0 0 1 651.8 1129.7" fill="none" stroke="#1e1e1e" stroke-width="1.3"/>
<path d="M684 1129.7 L692.7 1129.7" fill="none" stroke="#1e1e1e" stroke-width="3.2" stroke-linecap="square" stroke-linejoin="miter"/>
<line x1="689" y1="1129.7" x2="689" y2="1292.9" stroke="#1e1e1e" stroke-width="1" stroke-linecap="butt"/>
<line x1="692.7" y1="1129.7" x2="692.7" y2="1292.9" stroke="#1e1e1e" stroke-width="1" stroke-linecap="butt"/>
<rect x="617" y="1254.8" width="6.4" height="17.4" rx="0" fill="#fff" stroke="#1e1e1e" stroke-width="1.2"/>
<ellipse cx="633.3" cy="1262.7" rx="10.5" ry="8" fill="#fff" stroke="#1e1e1e" stroke-width="1.3"/>
<ellipse cx="633.3" cy="1262.7" rx="7.3" ry="5.2" fill="none" stroke="#1e1e1e" stroke-width="1"/>
<text x="0" y="0" font-family="Liberation Sans" font-size="28" font-weight="normal" text-anchor="middle" fill="#1e1e1e" stroke="#1e1e1e" stroke-width="0.25" transform="translate(681.6 1213.3) rotate(-90) scale(1.03 1.08)">BATH</text>
<rect x="692.7" y="1129.7" width="43.3" height="23.6" rx="0" fill="none" stroke="#1e1e1e" stroke-width="2.4"/>
<text x="0" y="0" font-family="Liberation Sans" font-size="22" font-weight="normal" text-anchor="middle" fill="#1e1e1e" stroke="#1e1e1e" stroke-width="0.25" transform="translate(714 1149.5) scale(1.03 1.08)">C</text>
<rect x="736" y="1128" width="26.5" height="25.3" fill="#1e1e1e"/>
<rect x="694" y="1153.3" width="40.8" height="43.3" rx="0" fill="none" stroke="#1e1e1e" stroke-width="1.3"/>
<line x1="694" y1="1153.3" x2="734.8" y2="1196.6" stroke="#1e1e1e" stroke-width="1.1" stroke-linecap="butt"/>
<line x1="734.8" y1="1153.3" x2="694" y2="1196.6" stroke="#1e1e1e" stroke-width="1.1" stroke-linecap="butt"/>
<circle cx="715" cy="1175.5" r="3.2" fill="#fff" stroke="#1e1e1e" stroke-width="1"/>
<line x1="711.8" y1="1175.5" x2="718.2" y2="1175.5" stroke="#1e1e1e" stroke-width="0.8" stroke-linecap="butt"/>
<line x1="715" y1="1172.3" x2="715" y2="1178.7" stroke="#1e1e1e" stroke-width="0.8" stroke-linecap="butt"/>
<path d="M698.4 1220 Q698.4 1204 714.7 1204 Q731 1204 731 1220 L731 1280 Q731 1287 724 1287 L705.4 1287 Q698.4 1287 698.4 1280 Z" fill="none" stroke="#1e1e1e" stroke-width="1.3" />
<circle cx="715" cy="1278.8" r="1.3" fill="#1e1e1e" stroke="#1e1e1e" stroke-width="0.8"/>
<path d="M737.3 1153.3 L737.3 1292.9" fill="none" stroke="#1e1e1e" stroke-width="3.4" stroke-linecap="square" stroke-linejoin="miter"/>
<line x1="762" y1="1153.3" x2="762" y2="1292.9" stroke="#1e1e1e" stroke-width="1.4" stroke-linecap="butt"/>
<path d="M737.3 1237.5 L762 1237.5" fill="none" stroke="#1e1e1e" stroke-width="2.6" stroke-linecap="butt" stroke-linejoin="miter"/>
<text x="0" y="0" font-family="Liberation Sans" font-size="23" font-weight="normal" text-anchor="middle" fill="#1e1e1e" stroke="#1e1e1e" stroke-width="0.25" transform="translate(759.6 1196.6) rotate(-90) scale(1.03 1.08)">BIR</text>
<text x="0" y="0" font-family="Liberation Sans" font-size="14" font-weight="normal" text-anchor="middle" fill="#1e1e1e" stroke="#1e1e1e" stroke-width="0.25" transform="translate(756 1266) rotate(-90) scale(1.03 1.08)">DESK</text>
<line x1="768.3" y1="1129.7" x2="768.3" y2="1162" stroke="#1e1e1e" stroke-width="1.5" stroke-linecap="butt"/>
<path d="M768.3 1162 A32.3 32.3 0 0 0 803 1129.7" fill="none" stroke="#1e1e1e" stroke-width="1.3"/>
<path d="M762 1129.7 L768.3 1129.7" fill="none" stroke="#1e1e1e" stroke-width="3.2" stroke-linecap="square" stroke-linejoin="miter"/>
<path d="M803 1129.7 L913.3 1129.7" fill="none" stroke="#1e1e1e" stroke-width="3.2" stroke-linecap="square" stroke-linejoin="miter"/>
<text x="0" y="0" font-family="Liberation Sans" font-size="23" font-weight="normal" text-anchor="middle" fill="#1e1e1e" stroke="#1e1e1e" stroke-width="0.25" transform="translate(839.5 1221.4) scale(1.03 1.08)">BEDROOM</text>
<text x="0" y="0" font-family="Liberation Sans" font-size="28" font-weight="normal" text-anchor="middle" fill="#1e1e1e" stroke="#1e1e1e" stroke-width="0.25" transform="translate(513.4 1221.6) scale(1.03 1.08)">BEDROOM</text>
<path d="M171.7 1293 L171.7 1313" fill="none" stroke="#1e1e1e" stroke-width="4" stroke-linecap="square" stroke-linejoin="miter"/>
<rect x="164.2" y="1313" width="15.6" height="288.3" rx="0" fill="none" stroke="#1e1e1e" stroke-width="1.3"/>
<path d="M171.7 1601.3 L171.7 1639.8 L446 1639.8 L446 1601.3" fill="none" stroke="#1e1e1e" stroke-width="4" stroke-linecap="square" stroke-linejoin="miter"/>
<rect x="438" y="1446" width="15.3" height="155.3" rx="0" fill="none" stroke="#1e1e1e" stroke-width="1.3"/>
<path d="M396.8 1293 L497.7 1293 L497.7 1420 L446 1420 L446 1366.8 L396.8 1366.8 Z" fill="#f2f2f2"/>
<line x1="497.7" y1="1296" x2="497.7" y2="1420" stroke="#1e1e1e" stroke-width="1.3" stroke-linecap="butt"/>
<line x1="446" y1="1420" x2="497.7" y2="1420" stroke="#1e1e1e" stroke-width="1.3" stroke-linecap="butt"/>
<path d="M446 1446 L446 1366.8 L395.5 1366.8 L395.5 1293" fill="none" stroke="#1e1e1e" stroke-width="4" stroke-linecap="square" stroke-linejoin="miter"/>
<line x1="192.4" y1="1610.2" x2="438.5" y2="1610.2" stroke="#1e1e1e" stroke-width="1.3" stroke-linecap="butt"/>
<line x1="193.2" y1="1610.2" x2="193.2" y2="1639.8" stroke="#1e1e1e" stroke-width="1.3" stroke-linecap="butt"/>
<line x1="294.6" y1="1610.2" x2="294.6" y2="1639.8" stroke="#1e1e1e" stroke-width="1.3" stroke-linecap="butt"/>
<line x1="353.8" y1="1610.2" x2="353.8" y2="1639.8" stroke="#1e1e1e" stroke-width="1.3" stroke-linecap="butt"/>
<line x1="438" y1="1610.2" x2="438" y2="1639.8" stroke="#1e1e1e" stroke-width="1.3" stroke-linecap="butt"/>
<text x="0" y="0" font-family="Liberation Sans" font-size="20" font-weight="normal" text-anchor="middle" fill="#1e1e1e" stroke="#1e1e1e" stroke-width="0.25" transform="translate(242.9 1631.7) scale(1.03 1.08)">C</text>
<text x="0" y="0" font-family="Liberation Sans" font-size="20" font-weight="normal" text-anchor="middle" fill="#1e1e1e" stroke="#1e1e1e" stroke-width="0.25" transform="translate(395.5 1631.7) scale(1.03 1.08)">C</text>
<text x="0" y="0" font-family="Liberation Sans" font-size="28" font-weight="normal" text-anchor="middle" fill="#1e1e1e" stroke="#1e1e1e" stroke-width="0.25" transform="translate(304.8 1464.2) scale(1.03 1.08)">DOUBLE</text>
<text x="0" y="0" font-family="Liberation Sans" font-size="28" font-weight="normal" text-anchor="middle" fill="#1e1e1e" stroke="#1e1e1e" stroke-width="0.25" transform="translate(304.8 1493.2) scale(1.03 1.08)">GARAGE</text>
<text x="0" y="0" font-family="Liberation Sans" font-size="20.8" font-weight="normal" text-anchor="middle" fill="#1e1e1e" stroke="#1e1e1e" stroke-width="0.25" transform="translate(264.8 1693.3) scale(1.03 1.08)">GROUND FLOOR</text>
<defs><g id="tX"><circle r="10" fill="#fff" stroke="#1a1a1a" stroke-width="1.1" vector-effect="non-scaling-stroke"/><path d="M0 0 Q4.99 0.35 9.99 -0.49 M3.5 0.04 L9.77 2.15 M5.8 0.06 L9.4 -3.42 M7.6 0.08 L9.98 0.62 M0 0 Q4.31 2.53 9.17 4 M3.12 1.59 L7.88 6.16 M5.17 2.63 L9.91 1.31 M6.77 3.45 L8.68 4.96 M6.87 3 L9.65 2.61 M0 0 Q3.1 3.93 7.09 7.06 M2.33 2.61 L4.65 8.85 M3.86 4.33 L8.97 4.43 M5.05 5.68 L6.23 7.83 M5.31 5.29 L8.38 5.46 M0 0 Q-0.1 5 0.99 9.95 M0.14 3.5 L-2.24 9.75 M0.23 5.8 L3.56 9.34 M0.3 7.59 L-0.9 9.96 M0.74 7.46 L3.23 9.46 M0 0 Q-1.41 4.8 -1.65 9.86 M-0.78 3.41 L-4.17 9.09 M-1.3 5.65 L0.6 9.98 M-1.7 7.41 L-2.93 9.56 M0 0 Q-3.24 3.81 -5.51 8.34 M-2.1 2.8 L-7.89 6.14 M-3.48 4.64 L-2.82 9.6 M-4.56 6.08 L-6.6 7.51 M0 0 Q-4.5 2.18 -8.41 5.4 M-3.05 1.71 L-9.5 3.13 M-5.06 2.84 L-6.9 7.24 M-6.63 3.72 L-9.18 3.96 M-6.31 4.05 L-7.36 6.77 M0 0 Q-4.95 -0.72 -10 -0.24 M-3.49 -0.29 L-9.46 -3.25 M-5.78 -0.49 L-9.74 2.25 M-7.57 -0.64 L-9.8 -1.97 M0 0 Q-4.39 -2.39 -9.3 -3.68 M-3.17 -1.48 L-7.64 -6.46 M-5.25 -2.46 L-9.96 -0.94 M-6.88 -3.22 L-8.48 -5.3 M0 0 Q-2.87 -4.09 -6.69 -7.44 M-2.18 -2.74 L-3.44 -9.39 M-3.61 -4.54 L-8.18 -5.75 M-4.73 -5.95 L-5.57 -8.3 M0 0 Q-1 -4.9 -3.16 -9.49 M-0.91 -3.38 L-0.09 -10 M-1.5 -5.6 L-5.11 -8.6 M-1.97 -7.34 L-1.58 -9.87 M0 0 Q1.78 -4.67 2.42 -9.7 M1.05 -3.34 L5.74 -8.19 M1.74 -5.53 L-0.08 -10 M2.28 -7.25 L3.99 -9.17 M0 0 Q3.64 -3.43 6.41 -7.68 M2.4 -2.55 L8.43 -5.37 M3.98 -4.22 L3.6 -9.33 M5.21 -5.53 L7.72 -6.35 M4.81 -5.76 L4.67 -8.84 M0 0 Q4.5 -2.18 8.41 -5.41 M3.05 -1.71 L9.74 -2.27 M5.06 -2.84 L6.44 -7.65 M6.63 -3.72 L9.29 -3.71" fill="none" stroke="#1a1a1a" stroke-width="0.9" vector-effect="non-scaling-stroke"/></g></defs>
<path d="M533.9 1402.7 L1229.5 1310.6 L1294.5 1654.4 L1288.3 1832 L590.7 1831.9 Z" fill="#e6e7e8" stroke="#1e1e1e" stroke-width="1.6" />
<path d="M535.6 1416.8 L578.1 1417.7 L609.9 1417.3 L623.2 1418.2 L663 1424.8 L684.2 1433.6 L710.8 1453.1 L728.5 1481.4 L750.6 1481.4 L759.5 1481.4 L759.5 1509 L718.7 1509 L717.9 1511.5 L701.9 1523.8 L694 1550.4 L691.3 1577 L690.4 1603.5 L692 1651 L691.5 1703 L695 1711 L704 1714.6 L740.5 1714.6 L740.5 1819.2 L589.1 1819.2 L576.9 1727 L593.6 1725.5 L647.3 1716.8 L658.6 1707.8 L664.3 1692 L664.3 1658 L660 1648 L647.3 1643.2 L566.9 1643.2 L561.9 1605.2 L645.3 1605.2 L655.9 1600 L663 1592 L666.5 1580 L668.3 1565 L670.1 1541.5 L675.4 1522.1 L684.2 1506.2 L701.9 1490.2 L713.4 1483.2 L701.9 1465.5 L684.2 1449.5 L659.5 1438 L624 1432.7 L604.6 1431.8 L578.1 1432.7 L537.4 1432.7 Z" fill="#fff" stroke="none"/>
<path d="M535.6 1416.8 C542.68 1416.95 565.72 1417.62 578.1 1417.7 C590.48 1417.78 602.38 1417.22 609.9 1417.3 C617.42 1417.38 614.35 1416.95 623.2 1418.2 C632.05 1419.45 652.83 1422.23 663 1424.8 C673.17 1427.37 676.23 1428.88 684.2 1433.6 C692.17 1438.32 703.42 1445.13 710.8 1453.1 C718.18 1461.07 725.55 1476.68 728.5 1481.4 L750.6 1481.4" fill="none" stroke="#1e1e1e" stroke-width="1.5"/>
<path d="M537.4 1432.7 C544.18 1432.7 566.9 1432.85 578.1 1432.7 C589.3 1432.55 596.95 1431.8 604.6 1431.8 C612.25 1431.8 614.85 1431.67 624 1432.7 C633.15 1433.73 649.47 1435.2 659.5 1438 C669.53 1440.8 677.13 1444.92 684.2 1449.5 C691.27 1454.08 697.03 1459.88 701.9 1465.5 C706.77 1471.12 711.48 1480.25 713.4 1483.2" fill="none" stroke="#1e1e1e" stroke-width="1.5"/>
<path d="M713.4 1483.2 C711.48 1484.37 706.77 1486.37 701.9 1490.2 C697.03 1494.03 688.62 1500.88 684.2 1506.2 C679.78 1511.52 677.75 1516.22 675.4 1522.1 C673.05 1527.98 671.28 1534.35 670.1 1541.5 C668.92 1548.65 668.9 1558.58 668.3 1565 C667.7 1571.42 667.38 1575.5 666.5 1580 C665.62 1584.5 664.77 1588.67 663 1592 C661.23 1595.33 658.85 1597.8 655.9 1600 C652.95 1602.2 647.07 1604.33 645.3 1605.2 L561.9 1605.2" fill="none" stroke="#1e1e1e" stroke-width="1.5"/>
<path d="M718.7 1509.5 C715.9 1511.88 706.02 1516.98 701.9 1523.8 C697.78 1530.62 695.77 1541.53 694 1550.4 C692.23 1559.27 691.9 1568.15 691.3 1577 C690.7 1585.85 690.55 1599.08 690.4 1603.5" fill="none" stroke="#1e1e1e" stroke-width="1.5"/>
<path d="M692 1651 L691.5 1703 Q692 1714.6 704 1714.6 L740.5 1714.6" fill="none" stroke="#1e1e1e" stroke-width="1.5"/>
<path d="M566.9 1643.2 L647.3 1643.2 Q664.3 1645 664.3 1662 L664.3 1690 Q662 1716 637 1719 L576.9 1727" fill="none" stroke="#1e1e1e" stroke-width="1.5"/>
<line x1="589.1" y1="1819.2" x2="740.5" y2="1819.2" stroke="#1e1e1e" stroke-width="1.3" stroke-linecap="butt"/>
<path d="M623.2 1418.5 L663 1425 L659.5 1438 L624 1432.5 Z" fill="#f3f3f3"/>
<line x1="623.2" y1="1418.2" x2="622" y2="1432.7" stroke="#1e1e1e" stroke-width="1.1" stroke-linecap="butt"/>
<line x1="663" y1="1424.8" x2="659.5" y2="1438" stroke="#1e1e1e" stroke-width="1.1" stroke-linecap="butt"/>
<path d="M551.5 1530 L645.3 1530 Q657.7 1530 657.7 1542 L657.7 1582 Q657.7 1593.7 645 1593.7 L560.4 1593.7" fill="none" stroke="#1e1e1e" stroke-width="1.2"/>
<path d="M568 1654.5 L645 1654.5 Q653 1654.5 653 1665 L653 1700 Q650 1713 630 1716" fill="none" stroke="#1e1e1e" stroke-width="1.1"/>
<rect x="692.5" y="1605.5" width="25.5" height="37" fill="#fff"/>
<line x1="692.1" y1="1613" x2="692.1" y2="1641" stroke="#1e1e1e" stroke-width="1.3" stroke-linecap="butt"/>
<line x1="692" y1="1605.2" x2="718.7" y2="1605.2" stroke="#1e1e1e" stroke-width="1.2" stroke-linecap="butt"/>
<rect x="689.4" y="1603.1" width="10.8" height="10.7" fill="#1e1e1e"/>
<rect x="689.4" y="1640.3" width="10.8" height="10.8" fill="#1e1e1e"/>
<line x1="678.3" y1="1625.8" x2="702.8" y2="1625.8" stroke="#1e1e1e" stroke-width="1.2" stroke-linecap="butt"/>
<rect x="701.2" y="1709.5" width="5.4" height="6" fill="#1e1e1e"/>
<rect x="714.3" y="1709.5" width="5.4" height="6" fill="#1e1e1e"/>
<rect x="727.3" y="1709.5" width="5.4" height="6" fill="#1e1e1e"/>
<line x1="750.6" y1="1374.2" x2="750.6" y2="1482.4" stroke="#1e1e1e" stroke-width="1.3" stroke-linecap="butt"/>
<line x1="801.9" y1="1368.8" x2="801.9" y2="1509" stroke="#1e1e1e" stroke-width="1.2" stroke-linecap="butt"/>
<line x1="822.3" y1="1381.6" x2="822.3" y2="1511.6" stroke="#1e1e1e" stroke-width="1.3" stroke-linecap="butt"/>
<line x1="822.3" y1="1381.6" x2="1044.3" y2="1354.3" stroke="#1e1e1e" stroke-width="1.3" stroke-linecap="butt"/>
<line x1="1044.3" y1="1354.3" x2="1044.3" y2="1427.4" stroke="#1e1e1e" stroke-width="1.3" stroke-linecap="butt"/>
<line x1="759.5" y1="1509" x2="1044.3" y2="1511.6" stroke="#1e1e1e" stroke-width="1.3" stroke-linecap="butt"/>
<path d="M759.5 1509.5 L822.3 1511.6 L1044.3 1512.2 L1044.3 1706.6 L1008.1 1706.6 L1008.1 1550.5 L910.5 1550.5 L910.5 1611.8 L821.7 1611.8 L821.7 1535.1 L759.3 1535.1 Z" fill="#fff" stroke="none"/>
<line x1="822.3" y1="1511.6" x2="1044.3" y2="1512.2" stroke="#1e1e1e" stroke-width="1.3" stroke-linecap="butt"/>
<line x1="1044.3" y1="1512.2" x2="1044.3" y2="1706.6" stroke="#1e1e1e" stroke-width="1.4" stroke-linecap="butt"/>
<line x1="1008" y1="1706.6" x2="1044.3" y2="1706.6" stroke="#1e1e1e" stroke-width="1.3" stroke-linecap="butt"/>
<line x1="909.5" y1="1512.5" x2="909.5" y2="1550" stroke="#1e1e1e" stroke-width="1.3" stroke-linecap="butt"/>
<rect x="816" y="1511.6" width="5" height="4.9" fill="#1e1e1e"/>
<rect x="909" y="1511.6" width="5" height="4.9" fill="#1e1e1e"/>
<rect x="952.5" y="1511.6" width="5" height="4.9" fill="#1e1e1e"/>
<rect x="1037.5" y="1511.6" width="5" height="4.9" fill="#1e1e1e"/>
<rect x="1040.5" y="1570.6" width="3.8" height="5" fill="#1e1e1e"/>
<rect x="1040.5" y="1614.2" width="3.8" height="5" fill="#1e1e1e"/>
<rect x="1040.5" y="1657.8" width="3.8" height="5" fill="#1e1e1e"/>
<rect x="1040.5" y="1702.5" width="3.8" height="5" fill="#1e1e1e"/>
<rect x="751" y="1482.8" width="8" height="25.7" fill="#fff"/>
<line x1="750.6" y1="1482.4" x2="759.5" y2="1482.4" stroke="#1e1e1e" stroke-width="1.2" stroke-linecap="butt"/>
<line x1="759.5" y1="1482.4" x2="759.5" y2="1509" stroke="#1e1e1e" stroke-width="1.2" stroke-linecap="butt"/>
<path d="M759 1490 L752 1490 Q743 1492 742 1500 L742 1504 L752 1504 L752 1509" fill="none" stroke="#1e1e1e" stroke-width="1.1"/>
<rect x="760.3" y="1494" width="19.5" height="15" rx="0" fill="#fff" stroke="#1e1e1e" stroke-width="1"/>
<line x1="760.3" y1="1498.5" x2="779.8" y2="1498.5" stroke="#1e1e1e" stroke-width="0.9" stroke-linecap="butt"/>
<line x1="760.3" y1="1503.5" x2="779.8" y2="1503.5" stroke="#1e1e1e" stroke-width="0.9" stroke-linecap="butt"/>
<path d="M781.6 1428 L906.1 1428 A34.2 34.2 0 0 1 970.9 1428 L1044.3 1428 L1044.3 1449.7 L970.9 1449.7 A34.2 34.2 0 0 1 906.1 1449.7 L781.6 1449.7 Z" fill="#fff" stroke="#1e1e1e" stroke-width="1.5"/>
<line x1="1044.3" y1="1428.5" x2="1044.3" y2="1449" stroke="#fff" stroke-width="2.5" stroke-linecap="butt"/>
<rect x="781.6" y="1428" width="40.7" height="21.7" rx="0" fill="#fff" stroke="#1e1e1e" stroke-width="1.1"/>
<line x1="786" y1="1428" x2="786" y2="1449.7" stroke="#1e1e1e" stroke-width="0.9" stroke-linecap="butt"/>
<line x1="791" y1="1428" x2="791" y2="1449.7" stroke="#1e1e1e" stroke-width="0.9" stroke-linecap="butt"/>
<line x1="796" y1="1428" x2="796" y2="1449.7" stroke="#1e1e1e" stroke-width="0.9" stroke-linecap="butt"/>
<line x1="801" y1="1428" x2="801" y2="1449.7" stroke="#1e1e1e" stroke-width="0.9" stroke-linecap="butt"/>
<line x1="806" y1="1428" x2="806" y2="1449.7" stroke="#1e1e1e" stroke-width="0.9" stroke-linecap="butt"/>
<line x1="811" y1="1428" x2="811" y2="1449.7" stroke="#1e1e1e" stroke-width="0.9" stroke-linecap="butt"/>
<line x1="816" y1="1428" x2="816" y2="1449.7" stroke="#1e1e1e" stroke-width="0.9" stroke-linecap="butt"/>
<line x1="810" y1="1439" x2="818" y2="1439" stroke="#1e1e1e" stroke-width="0.8" stroke-linecap="butt"/>
<text x="0" y="0" font-family="Liberation Sans" font-size="14" font-weight="normal" text-anchor="middle" fill="#1e1e1e" stroke="#1e1e1e" stroke-width="0.25" transform="translate(835 1444.4) scale(1.03 1.08)">UP</text>
<circle cx="938.5" cy="1439.1" r="12" fill="#fff" stroke="#1e1e1e" stroke-width="1.5"/>
<text x="0" y="0" font-family="Liberation Sans" font-size="13.5" font-weight="normal" text-anchor="middle" fill="#1e1e1e" stroke="#1e1e1e" stroke-width="0.25" transform="translate(938.5 1444.6) scale(1.03 1.08)">WF</text>
<path d="M1044.3 1427.4 L1076.7 1435.2 L1111 1449.2 L1135.9 1464.8 L1159.2 1485 L1167 1491.3 L1167 1491.3 L1174.8 1482 L1177.1 1460.1 L1175.6 1432.1 L1171.7 1413.4 L1193.5 1407.2 L1197.4 1429 L1199.7 1460.1 L1191.9 1491.3 L1184.6 1511.7 L1188.5 1529.5 L1196.5 1559.3 L1192.5 1598.9 L1176.6 1634.6 L1171.7 1678.2 L1171.7 1679.2 L1204.4 1695 L1214.3 1694 L1241 1679.2 L1245 1658.3 L1294.5 1654.4 L1288.3 1832 L1144.3 1832 L1143.9 1774.6 L1078.3 1815.3 L1062.4 1819.2 L839.2 1819.2 L839.2 1707.2 L1044.3 1707.2 L1044.9 1667.3 L1099.4 1680.1 L1137 1697 L1146.9 1699 L1151.9 1690 L1148.9 1668.3 L1150.9 1642.5 L1164.7 1614.7 L1174.7 1579.1 L1172.7 1547.4 L1160.8 1539.4 L1141 1548.4 L1099.4 1563.2 L1044.9 1572.1 L1044.9 1549.4 L1089.4 1543.4 L1125.1 1529.5 L1148.3 1514.6 L1148.3 1514.6 L1145.2 1503.7 L1131.2 1486.6 L1107.8 1469.5 L1076.7 1455.5 L1044.3 1449.2 Z" fill="#fff" stroke="none"/>
<path d="M1044.3 1427.4 C1049.7 1428.7 1065.58 1431.57 1076.7 1435.2 C1087.82 1438.83 1101.13 1444.27 1111 1449.2 C1120.87 1454.13 1127.87 1458.83 1135.9 1464.8 C1143.93 1470.77 1154.02 1480.58 1159.2 1485 C1164.38 1489.42 1164.4 1491.8 1167 1491.3 C1169.6 1490.8 1173.12 1487.2 1174.8 1482 C1176.48 1476.8 1176.97 1468.42 1177.1 1460.1 C1177.23 1451.78 1176.5 1439.88 1175.6 1432.1 C1174.7 1424.32 1172.35 1416.52 1171.7 1413.4" fill="none" stroke="#1e1e1e" stroke-width="1.5"/>
<path d="M1193.5 1407.2 C1194.15 1410.83 1196.37 1420.18 1197.4 1429 C1198.43 1437.82 1200.62 1449.72 1199.7 1460.1 C1198.78 1470.48 1194.42 1482.7 1191.9 1491.3 C1189.38 1499.9 1185.17 1505.33 1184.6 1511.7 C1184.03 1518.07 1186.52 1521.57 1188.5 1529.5 C1190.48 1537.43 1195.83 1547.73 1196.5 1559.3 C1197.17 1570.87 1195.82 1586.35 1192.5 1598.9 C1189.18 1611.45 1180.07 1621.38 1176.6 1634.6 C1173.13 1647.82 1172.52 1670.93 1171.7 1678.2" fill="none" stroke="#1e1e1e" stroke-width="1.5"/>
<path d="M1044.9 1549.4 C1052.32 1548.4 1076.03 1546.72 1089.4 1543.4 C1102.77 1540.08 1115.28 1534.3 1125.1 1529.5 C1134.92 1524.7 1144.95 1518.9 1148.3 1514.6 C1151.65 1510.3 1148.05 1508.37 1145.2 1503.7 C1142.35 1499.03 1137.43 1492.3 1131.2 1486.6 C1124.97 1480.9 1116.88 1474.68 1107.8 1469.5 C1098.72 1464.32 1087.28 1458.88 1076.7 1455.5 C1066.12 1452.12 1049.7 1450.25 1044.3 1449.2" fill="none" stroke="#1e1e1e" stroke-width="1.5"/>
<path d="M1171.7 1679.2 C1177.15 1681.83 1197.3 1692.53 1204.4 1695 C1211.5 1697.47 1208.2 1696.63 1214.3 1694 C1220.4 1691.37 1235.88 1685.15 1241 1679.2 C1246.12 1673.25 1244.33 1661.78 1245 1658.3 L1294.5 1654.4" fill="none" stroke="#1e1e1e" stroke-width="1.5"/>
<path d="M1044.9 1667.3 C1053.98 1669.43 1084.05 1675.15 1099.4 1680.1 C1114.75 1685.05 1129.08 1693.85 1137 1697 C1144.92 1700.15 1144.42 1700.17 1146.9 1699 C1149.38 1697.83 1151.57 1695.12 1151.9 1690 C1152.23 1684.88 1149.07 1676.22 1148.9 1668.3 C1148.73 1660.38 1148.27 1651.43 1150.9 1642.5 C1153.53 1633.57 1160.73 1625.27 1164.7 1614.7 C1168.67 1604.13 1173.37 1590.32 1174.7 1579.1 C1176.03 1567.88 1175.02 1554.02 1172.7 1547.4 C1170.38 1540.78 1166.08 1539.23 1160.8 1539.4 C1155.52 1539.57 1151.23 1544.43 1141 1548.4 C1130.77 1552.37 1115.42 1559.25 1099.4 1563.2 C1083.38 1567.15 1053.98 1570.62 1044.9 1572.1" fill="none" stroke="#1e1e1e" stroke-width="1.5"/>
<path d="M1171.7 1678.2 Q1170 1730 1164.2 1771.7" fill="none" stroke="#1e1e1e" stroke-width="1.5"/>
<path d="M839.2 1819.2 L1062.4 1819.2 Q1072 1819 1080 1814 L1143.9 1774.6" fill="none" stroke="#1e1e1e" stroke-width="1.5"/>
<line x1="1144.3" y1="1823.7" x2="1144.3" y2="1832" stroke="#1e1e1e" stroke-width="1.2" stroke-linecap="butt"/>
<rect x="1145" y="1823.8" width="143" height="7.2" fill="#fff"/>
<line x1="1294.5" y1="1654.4" x2="1288.3" y2="1832" stroke="#1e1e1e" stroke-width="1.6" stroke-linecap="butt"/>
<line x1="590.7" y1="1831.9" x2="1288.3" y2="1832" stroke="#1e1e1e" stroke-width="1.6" stroke-linecap="butt"/>
<path d="M858.6 1725.9 L1040.9 1725.9 L1065.8 1739.9 Q1052 1752.6 1030.7 1752.6 L858.6 1752.6 Z" fill="#e6e7e8" stroke="#1e1e1e" stroke-width="1.5"/>
<path d="M823.9 1707.5 L858.6 1707.5 L858.6 1752.6 L823.9 1752.6 Z" fill="#f2f2f2" stroke="none"/>
<line x1="858.6" y1="1707.5" x2="858.6" y2="1752.6" stroke="#1e1e1e" stroke-width="1.3" stroke-linecap="butt"/>
<path d="M719 1509.5 L759.3 1509.5 L759.3 1535.1 L821.7 1535.1 L821.7 1611.8 L910.5 1611.8 L910.5 1550.5 L1008.1 1550.5 L1008.1 1707.2 L821.7 1707.2 L821.7 1732.8 L839.2 1732.8 L839.2 1831 L740.5 1831 L740.5 1706 L699 1706 L699 1642.7 L719 1642.7 Z" fill="#e9e9ea" stroke="#1e1e1e" stroke-width="4" />
<text x="0" y="0" font-family="Liberation Sans" font-size="28" font-weight="normal" text-anchor="middle" fill="#1e1e1e" stroke="#1e1e1e" stroke-width="0.25" transform="translate(858.5 1658.8) scale(1.03 1.08)">RESIDENCE</text>
<text x="0" y="0" font-family="Liberation Sans" font-size="23" font-weight="normal" text-anchor="middle" fill="#1e1e1e" stroke="#1e1e1e" stroke-width="0.25" transform="translate(1033.6 1615) rotate(-90) scale(1.03 1.08)">BALCONY</text>
<text x="0" y="0" font-family="Liberation Sans" font-size="23" font-weight="normal" text-anchor="middle" fill="#1e1e1e" stroke="#1e1e1e" stroke-width="0.25" transform="translate(629 1634) scale(1.03 1.08)">PORCH</text>
<path d="M1143.7 1343.4 L1170.1 1337.1 L1177.9 1387 L1231.6 1379.9 L1234 1401.7 L1156.9 1415 Z" fill="#f2f2f2" stroke="#1e1e1e" stroke-width="1.2"/>
<path d="M1170.1 1337.1 L1224.6 1329.3 L1231.6 1379.9 L1177.9 1387 Z" fill="#e6e7e8" stroke="#1e1e1e" stroke-width="4"/>
<rect x="1143.8" y="1343.3" width="4.4" height="4.4" fill="#1e1e1e"/>
<rect x="1148.8" y="1376.8" width="4.4" height="4.4" fill="#1e1e1e"/>
<rect x="1156.3" y="1410.3" width="4.4" height="4.4" fill="#1e1e1e"/>
<rect x="1193.8" y="1403.8" width="4.4" height="4.4" fill="#1e1e1e"/>
<rect x="1230.3" y="1397.3" width="4.4" height="4.4" fill="#1e1e1e"/>
<path d="M1159 1418 L1218 1467 M1160 1419 L1234 1404 M1234 1402 L1229.5 1482" fill="none" stroke="#1e1e1e" stroke-width="1.2" stroke-dasharray="5 4"/>
<ellipse cx="1220.3" cy="1442.2" rx="18.7" ry="23.2" transform="rotate(-12 1220.3 1442.2)" fill="#fff" stroke="#1e1e1e" stroke-width="1.5"/>
<line x1="1208.6" y1="1355.4" x2="1265.7" y2="1347.2" stroke="#1e1e1e" stroke-width="1.2" stroke-linecap="butt"/>
<text x="0" y="0" font-family="Liberation Sans" font-size="23" font-weight="normal" text-anchor="middle" fill="#1e1e1e" stroke="#1e1e1e" stroke-width="0.25" transform="translate(1292.7 1337) scale(1.03 1.08)">CUBBY</text>
<line x1="1220.7" y1="1442.4" x2="1271" y2="1433.6" stroke="#1e1e1e" stroke-width="1.2" stroke-linecap="butt"/>
<text x="0" y="0" font-family="Liberation Sans" font-size="23" font-weight="normal" text-anchor="middle" fill="#1e1e1e" stroke="#1e1e1e" stroke-width="0.25" transform="translate(1309.3 1436.2) scale(1.03 1.08)">POND</text>
<path d="M1243 1658.3 L1288.6 1658.3 L1288.6 1700.3 L1271.8 1700.3 Q1270 1712 1258.9 1713.8 L1258.9 1700.3 L1243 1700.3 Z" fill="#fff" stroke="#1e1e1e" stroke-width="1.5"/>
<line x1="1243" y1="1677.8" x2="1288.6" y2="1677.8" stroke="#1e1e1e" stroke-width="1.2" stroke-linecap="butt"/>
<line x1="1272.8" y1="1668.6" x2="1309.4" y2="1668.6" stroke="#1e1e1e" stroke-width="1.2" stroke-linecap="butt"/>
<text x="0" y="0" font-family="Liberation Sans" font-size="23" font-weight="normal" text-anchor="middle" fill="#1e1e1e" stroke="#1e1e1e" stroke-width="0.25" transform="translate(1342.1 1667.5) scale(1.03 1.08)">SAND</text>
<text x="0" y="0" font-family="Liberation Sans" font-size="23" font-weight="normal" text-anchor="middle" fill="#1e1e1e" stroke="#1e1e1e" stroke-width="0.25" transform="translate(1342.6 1690.8) scale(1.03 1.08)">PIT</text>
<rect x="1202.4" y="1727.3" width="54.1" height="28.1" rx="0" fill="#e6e7e8" stroke="#1e1e1e" stroke-width="1.3"/>
<line x1="1228.5" y1="1740.6" x2="1303.8" y2="1740.6" stroke="#1e1e1e" stroke-width="1.2" stroke-linecap="butt"/>
<text x="0" y="0" font-family="Liberation Sans" font-size="23" font-weight="normal" text-anchor="middle" fill="#1e1e1e" stroke="#1e1e1e" stroke-width="0.25" transform="translate(1348.6 1735.1) scale(1.03 1.08)">VEGGIE</text>
<text x="0" y="0" font-family="Liberation Sans" font-size="23" font-weight="normal" text-anchor="middle" fill="#1e1e1e" stroke="#1e1e1e" stroke-width="0.25" transform="translate(1349.5 1758.4) scale(1.03 1.08)">PATCH</text>
<path d="M1172.7 1680.1 L1205.4 1696 L1200.4 1707.9 L1172.7 1696 Z" fill="#f2f2f2" stroke="#1e1e1e" stroke-width="1.1"/>
<circle cx="1192.1" cy="1638.5" r="8.9" fill="#fff" stroke="#1e1e1e" stroke-width="1.2"/>
<text x="0" y="0" font-family="Liberation Sans" font-size="10.5" font-weight="normal" text-anchor="middle" fill="#1e1e1e" stroke="#1e1e1e" stroke-width="0.25" transform="translate(1192.1 1642.5) scale(1.03 1.08)">FP</text>
<text x="0" y="0" font-family="Liberation Sans" font-size="10" font-weight="normal" text-anchor="middle" fill="#1e1e1e" stroke="#1e1e1e" stroke-width="0.25" transform="translate(1185.5 1660.3) scale(1.03 1.08)">SEAT</text>
<path d="M1202.4 1653.4 L1213.3 1657.4 Q1208 1666 1199.4 1672.2 L1194.5 1667.3 Q1201 1661 1202.4 1653.4 Z" fill="#fff" stroke="#1e1e1e" stroke-width="1.1"/>
<line x1="1188" y1="1660.5" x2="1204" y2="1663.5" stroke="#1e1e1e" stroke-width="1" stroke-linecap="butt"/>
<rect x="1145.4" y="1773.2" width="80.5" height="48.6" rx="0" fill="#e9e9ea" stroke="#1e1e1e" stroke-width="3.9"/>
<circle cx="1120.7" cy="1810.1" r="17.4" fill="#fff" stroke="#1e1e1e" stroke-width="1.2"/>
<text x="0" y="0" font-family="Liberation Sans" font-size="18" font-weight="normal" text-anchor="middle" fill="#1e1e1e" stroke="#1e1e1e" stroke-width="0.25" transform="translate(1120.7 1815.3) scale(1.03 1.08)">WT</text>
<circle cx="1255.7" cy="1807.1" r="19.2" fill="#fff" stroke="#1e1e1e" stroke-width="1.2"/>
<text x="0" y="0" font-family="Liberation Sans" font-size="19" font-weight="normal" text-anchor="middle" fill="#1e1e1e" stroke="#1e1e1e" stroke-width="0.25" transform="translate(1255.7 1813) scale(1.03 1.08)">WT</text>
<line x1="1184" y1="1809.5" x2="1151.8" y2="1865.1" stroke="#1e1e1e" stroke-width="1.2" stroke-linecap="butt"/>
<text x="0" y="0" font-family="Liberation Sans" font-size="28" font-weight="normal" text-anchor="middle" fill="#1e1e1e" stroke="#1e1e1e" stroke-width="0.25" transform="translate(1131.1 1894.7) scale(1.03 1.08)">SHED /</text>
<text x="0" y="0" font-family="Liberation Sans" font-size="28" font-weight="normal" text-anchor="middle" fill="#1e1e1e" stroke="#1e1e1e" stroke-width="0.25" transform="translate(1131.5 1923.5) scale(1.03 1.08)">WORKSHOP</text>
<use href="#tX" transform="translate(556 1409.5) scale(0.7)"/>
<use href="#tX" transform="translate(588.3 1404.5) scale(1)"/>
<use href="#tX" transform="translate(616.4 1402.5) scale(0.85)"/>
<use href="#tX" transform="translate(645.5 1404.5) scale(0.9)"/>
<use href="#tX" transform="translate(668 1400) scale(0.85)"/>
<use href="#tX" transform="translate(696 1402) scale(1.2)"/>
<use href="#tX" transform="translate(728.3 1399) scale(1.3)"/>
<use href="#tX" transform="translate(714.2 1426.6) scale(1.2)"/>
<use href="#tX" transform="translate(739.8 1421.4) scale(0.86)"/>
<use href="#tX" transform="translate(735.5 1450) scale(1.2)"/>
<use href="#tX" transform="translate(774.4 1388.5) scale(0.7)"/>
<use href="#tX" transform="translate(562.2 1460.2) scale(1.3)"/>
<use href="#tX" transform="translate(600.7 1458.4) scale(1.3)"/>
<use href="#tX" transform="translate(635.6 1456.3) scale(1.05)"/>
<use href="#tX" transform="translate(665.3 1458) scale(0.75)"/>
<use href="#tX" transform="translate(697.9 1479.1) scale(0.75)"/>
<use href="#tX" transform="translate(591.3 1492) scale(1.6)"/>
<use href="#tX" transform="translate(638.2 1492.9) scale(2)"/>
<use href="#tX" transform="translate(674 1491.6) scale(1)"/>
<use href="#tX" transform="translate(563.6 1511.5) scale(1)"/>
<use href="#tX" transform="translate(593.6 1519.4) scale(0.75)"/>
<use href="#tX" transform="translate(617 1518.9) scale(0.75)"/>
<use href="#tX" transform="translate(659.8 1521.2) scale(0.75)"/>
<use href="#tX" transform="translate(1068.9 1362) scale(1.06)"/>
<use href="#tX" transform="translate(1099.3 1355.8) scale(1.06)"/>
<use href="#tX" transform="translate(1118 1373.7) scale(1.06)"/>
<use href="#tX" transform="translate(1092 1381.8) scale(0.7)"/>
<use href="#tX" transform="translate(1069.2 1397.1) scale(1.06)"/>
<use href="#tX" transform="translate(1110.5 1406.4) scale(1.06)"/>
<use href="#tX" transform="translate(1079.5 1422.8) scale(0.7)"/>
<use href="#tX" transform="translate(1115.3 1438.3) scale(1.06)"/>
<use href="#tX" transform="translate(1142.4 1455.5) scale(1.06)"/>
<use href="#tX" transform="translate(1168.1 1440.4) scale(0.7)"/>
<use href="#tX" transform="translate(1163.4 1477.3) scale(0.7)"/>
<use href="#tX" transform="translate(1061.9 1474.1) scale(0.7)"/>
<use href="#tX" transform="translate(1096.6 1485.4) scale(0.7)"/>
<use href="#tX" transform="translate(1075.2 1499.1) scale(1.04)"/>
<use href="#tX" transform="translate(1114.8 1512.9) scale(1.04)"/>
<use href="#tX" transform="translate(1085.5 1527.5) scale(1.04)"/>
<use href="#tX" transform="translate(1059.2 1534.7) scale(0.7)"/>
<use href="#tX" transform="translate(1210.7 1500.8) scale(1.09)"/>
<use href="#tX" transform="translate(1246.4 1505.4) scale(1.39)"/>
<use href="#tX" transform="translate(1239.1 1556.3) scale(1.09)"/>
<use href="#tX" transform="translate(1213.3 1570.2) scale(0.89)"/>
<use href="#tX" transform="translate(1265.4 1569.8) scale(0.89)"/>
<use href="#tX" transform="translate(1213.3 1602.9) scale(1.29)"/>
<use href="#tX" transform="translate(1248 1597.9) scale(1.29)"/>
<use href="#tX" transform="translate(1274.1 1609.8) scale(0.89)"/>
<use href="#tX" transform="translate(1225.8 1641.5) scale(1.09)"/>
<use href="#tX" transform="translate(1258.9 1635) scale(1.09)"/>
<use href="#tX" transform="translate(1228.2 1667.3) scale(1.09)"/>
<use href="#tX" transform="translate(879 1739.5) scale(1.09)"/>
<use href="#tX" transform="translate(901.6 1739.5) scale(0.79)"/>
<use href="#tX" transform="translate(922.5 1739.5) scale(1.09)"/>
<use href="#tX" transform="translate(946.9 1739.5) scale(0.79)"/>
<use href="#tX" transform="translate(968 1738) scale(1.09)"/>
<use href="#tX" transform="translate(990.6 1739.5) scale(0.79)"/>
<use href="#tX" transform="translate(1013.7 1738) scale(1.09)"/>
<use href="#tX" transform="translate(1038.6 1739.5) scale(0.79)"/>
<use href="#tX" transform="translate(758.5 1389.5) scale(0.7)"/>
<use href="#tX" transform="translate(758.5 1409.8) scale(0.7)"/>
<use href="#tX" transform="translate(758.5 1429.2) scale(0.7)"/>
<use href="#tX" transform="translate(758.5 1449.6) scale(0.7)"/>
<use href="#tX" transform="translate(758.5 1469.1) scale(0.7)"/>
<use href="#tX" transform="translate(792.7 1378.6) scale(0.7)"/>
<use href="#tX" transform="translate(812.2 1378.6) scale(0.7)"/>
<use href="#tX" transform="translate(792.7 1398) scale(0.7)"/>
<use href="#tX" transform="translate(812.2 1398) scale(0.7)"/>
<use href="#tX" transform="translate(792.7 1417.2) scale(0.7)"/>
<use href="#tX" transform="translate(812.2 1417.2) scale(0.7)"/>
<use href="#tX" transform="translate(792.7 1461) scale(0.7)"/>
<use href="#tX" transform="translate(812.2 1461) scale(0.7)"/>
<use href="#tX" transform="translate(792.7 1480) scale(0.7)"/>
<use href="#tX" transform="translate(812.2 1480) scale(0.7)"/>
<use href="#tX" transform="translate(792.7 1498.3) scale(0.7)"/>
<use href="#tX" transform="translate(812.2 1498.3) scale(0.7)"/>
<use href="#tX" transform="translate(840 1371.8) scale(0.7)"/>
<use href="#tX" transform="translate(863.3 1369) scale(0.7)"/>
<use href="#tX" transform="translate(887 1365.7) scale(0.7)"/>
<use href="#tX" transform="translate(910.7 1363.2) scale(0.7)"/>
<use href="#tX" transform="translate(934.4 1360) scale(0.7)"/>
<use href="#tX" transform="translate(958 1357.1) scale(0.7)"/>
<use href="#tX" transform="translate(981.6 1354.4) scale(0.7)"/>
<use href="#tX" transform="translate(1005.1 1351.6) scale(0.7)"/>
<use href="#tX" transform="translate(1028.8 1348.7) scale(0.7)"/>
<use href="#tX" transform="translate(664.8 1543.3) scale(0.66)"/>
<use href="#tX" transform="translate(662.7 1563.7) scale(0.66)"/>
<use href="#tX" transform="translate(659.5 1584) scale(0.66)"/>
<use href="#tX" transform="translate(646.2 1599) scale(0.66)"/>
<use href="#tX" transform="translate(569.2 1599) scale(0.66)"/>
<use href="#tX" transform="translate(588.3 1599) scale(0.66)"/>
<use href="#tX" transform="translate(607.3 1599) scale(0.66)"/>
<use href="#tX" transform="translate(626.7 1599) scale(0.66)"/>
<use href="#tX" transform="translate(710.8 1532.7) scale(0.73)"/>
<use href="#tX" transform="translate(703.7 1551.3) scale(0.73)"/>
<use href="#tX" transform="translate(703.7 1570.7) scale(0.73)"/>
<use href="#tX" transform="translate(703.7 1591.1) scale(0.73)"/>
<use href="#tX" transform="translate(579.4 1648.4) scale(0.66)"/>
<use href="#tX" transform="translate(597.5 1648.4) scale(0.66)"/>
<use href="#tX" transform="translate(615.6 1648.4) scale(0.66)"/>
<use href="#tX" transform="translate(633.3 1648.4) scale(0.66)"/>
<use href="#tX" transform="translate(651.8 1651.6) scale(0.66)"/>
<use href="#tX" transform="translate(658.6 1669.3) scale(0.66)"/>
<use href="#tX" transform="translate(660.2 1687.4) scale(0.66)"/>
<use href="#tX" transform="translate(654.5 1706) scale(0.66)"/>
<use href="#tX" transform="translate(637.1 1716.4) scale(0.66)"/>
<use href="#tX" transform="translate(615.6 1718.6) scale(0.66)"/>
<use href="#tX" transform="translate(593.6 1720.2) scale(0.66)"/>
<use href="#tX" transform="translate(577.5 1728.6) scale(0.66)"/>
<use href="#tX" transform="translate(597.5 1825) scale(0.64)"/>
<use href="#tX" transform="translate(616.7 1825) scale(0.64)"/>
<use href="#tX" transform="translate(635.5 1825) scale(0.64)"/>
<use href="#tX" transform="translate(654.1 1825) scale(0.64)"/>
<use href="#tX" transform="translate(672.7 1825) scale(0.64)"/>
<use href="#tX" transform="translate(691.5 1825) scale(0.64)"/>
<use href="#tX" transform="translate(710.3 1825) scale(0.64)"/>
<use href="#tX" transform="translate(728.8 1825) scale(0.64)"/>
<path d="M1287.6 1864.6 L1309.7 1844.2 L1337.7 1855.7 Z" fill="#060a2a"/>
<text x="0" y="0" font-family="Liberation Serif" font-size="74" font-weight="bold" text-anchor="middle" fill="#060a2a" transform="translate(1321 1933.6) scale(1 1)">N</text>
</svg></body></html>
